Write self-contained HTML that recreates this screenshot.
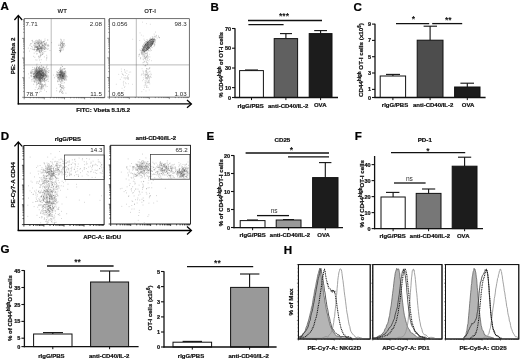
<!DOCTYPE html>
<html lang="en">
<head>
<meta charset="utf-8">
<title>Figure</title>
<style>html,body{margin:0;padding:0;background:#fff;overflow:hidden}svg{display:block;filter:blur(0.35px)}</style>
</head>
<body>
<svg width="520" height="361" viewBox="0 0 520 361" font-family='"Liberation Sans", Arial, sans-serif'>
<defs><filter id="soft" x="-5%" y="-5%" width="110%" height="110%"><feGaussianBlur stdDeviation="0.38"/></filter></defs>
<rect width="520" height="361" fill="#fff"/>
<text x="0.6" y="9.7" font-size="11.6" font-weight="bold" text-anchor="start" fill="#000" stroke="#000" stroke-width="0.22">A</text>
<text x="210.5" y="10.6" font-size="11.6" font-weight="bold" text-anchor="start" fill="#000" stroke="#000" stroke-width="0.22">B</text>
<text x="353.6" y="10.6" font-size="11.6" font-weight="bold" text-anchor="start" fill="#000" stroke="#000" stroke-width="0.22">C</text>
<text x="0.8" y="140.4" font-size="11.6" font-weight="bold" text-anchor="start" fill="#000" stroke="#000" stroke-width="0.22">D</text>
<text x="206.6" y="140.2" font-size="11.6" font-weight="bold" text-anchor="start" fill="#000" stroke="#000" stroke-width="0.22">E</text>
<text x="354.8" y="140.2" font-size="11.6" font-weight="bold" text-anchor="start" fill="#000" stroke="#000" stroke-width="0.22">F</text>
<text x="0.4" y="253" font-size="11.6" font-weight="bold" text-anchor="start" fill="#000" stroke="#000" stroke-width="0.22">G</text>
<text x="283.8" y="254" font-size="11.6" font-weight="bold" text-anchor="start" fill="#000" stroke="#000" stroke-width="0.22">H</text>
<g id="panelA">
<rect x="24.2" y="18.7" width="80.6" height="78.6" fill="#fff" stroke="#333" stroke-width="0.7"/>
<path d="M24.2 97.3v2M24.2 97.3h-2M30.3 97.3v1M24.2 91.4h-1M33.8 97.3v1M24.2 87.9h-1M36.3 97.3v1M24.2 85.5h-1M38.3 97.3v1M24.2 83.6h-1M39.9 97.3v1M24.2 82h-1M41.2 97.3v1M24.2 80.7h-1M42.4 97.3v1M24.2 79.6h-1M43.4 97.3v1M24.2 78.5h-1M44.3 97.3v2M24.2 77.7h-2M50.4 97.3v1M24.2 71.7h-1M54 97.3v1M24.2 68.3h-1M56.5 97.3v1M24.2 65.8h-1M58.4 97.3v1M24.2 63.9h-1M60 97.3v1M24.2 62.4h-1M61.4 97.3v1M24.2 61h-1M62.5 97.3v1M24.2 59.9h-1M63.6 97.3v1M24.2 58.9h-1M64.5 97.3v2M24.2 58h-2M70.6 97.3v1M24.2 52.1h-1M74.1 97.3v1M24.2 48.6h-1M76.6 97.3v1M24.2 46.2h-1M78.6 97.3v1M24.2 44.3h-1M80.2 97.3v1M24.2 42.7h-1M81.5 97.3v1M24.2 41.4h-1M82.7 97.3v1M24.2 40.3h-1M83.7 97.3v1M24.2 39.2h-1M84.6 97.3v2M24.2 38.4h-2M90.7 97.3v1M24.2 32.4h-1M94.3 97.3v1M24.2 29h-1M96.8 97.3v1M24.2 26.5h-1M98.7 97.3v1M24.2 24.6h-1M100.3 97.3v1M24.2 23.1h-1M101.7 97.3v1M24.2 21.7h-1M102.8 97.3v1M24.2 20.6h-1M103.9 97.3v1M24.2 19.6h-1" stroke="#333" stroke-width="0.55" fill="none"/>
<rect x="109.3" y="18.7" width="80" height="78.4" fill="#fff" stroke="#333" stroke-width="0.7"/>
<path d="M109.3 97.1v2M109.3 97.1h-2M115.3 97.1v1M109.3 91.2h-1M118.8 97.1v1M109.3 87.7h-1M121.3 97.1v1M109.3 85.3h-1M123.3 97.1v1M109.3 83.4h-1M124.9 97.1v1M109.3 81.8h-1M126.2 97.1v1M109.3 80.5h-1M127.4 97.1v1M109.3 79.4h-1M128.4 97.1v1M109.3 78.4h-1M129.3 97.1v2M109.3 77.5h-2M135.3 97.1v1M109.3 71.6h-1M138.8 97.1v1M109.3 68.1h-1M141.3 97.1v1M109.3 65.7h-1M143.3 97.1v1M109.3 63.8h-1M144.9 97.1v1M109.3 62.2h-1M146.2 97.1v1M109.3 60.9h-1M147.4 97.1v1M109.3 59.8h-1M148.4 97.1v1M109.3 58.8h-1M149.3 97.1v2M109.3 57.9h-2M155.3 97.1v1M109.3 52h-1M158.8 97.1v1M109.3 48.5h-1M161.3 97.1v1M109.3 46.1h-1M163.3 97.1v1M109.3 44.2h-1M164.9 97.1v1M109.3 42.6h-1M166.2 97.1v1M109.3 41.3h-1M167.4 97.1v1M109.3 40.2h-1M168.4 97.1v1M109.3 39.2h-1M169.3 97.1v2M109.3 38.3h-2M175.3 97.1v1M109.3 32.4h-1M178.8 97.1v1M109.3 28.9h-1M181.3 97.1v1M109.3 26.5h-1M183.3 97.1v1M109.3 24.6h-1M184.9 97.1v1M109.3 23h-1M186.2 97.1v1M109.3 21.7h-1M187.4 97.1v1M109.3 20.6h-1M188.4 97.1v1M109.3 19.6h-1" stroke="#333" stroke-width="0.55" fill="none"/>
<line x1="51.2" y1="18.7" x2="51.2" y2="97.3" stroke="#777" stroke-width="0.5"/>
<line x1="24.2" y1="64.9" x2="104.8" y2="64.9" stroke="#777" stroke-width="0.5"/>
<line x1="136.3" y1="18.7" x2="136.3" y2="97.1" stroke="#777" stroke-width="0.5"/>
<line x1="109.3" y1="64.9" x2="189.3" y2="64.9" stroke="#777" stroke-width="0.5"/>
<g filter="url(#soft)">
<path d="M37.8 47.3h.01M39 46.5h.01M44.8 47.4h.01M35.9 49.5h.01M32.7 41.5h.01M42.5 44.5h.01M39.1 51.6h.01M39.9 48.1h.01M39.9 46.4h.01M36.3 46h.01M37.5 43.5h.01M34 49.4h.01M40.6 43.3h.01M36.7 50.6h.01M45 44.2h.01M40.8 41.2h.01M39.5 39.8h.01M38.6 48.2h.01M36.8 40.3h.01M38.8 49.4h.01M45.3 49.2h.01M37.3 51.1h.01M37.7 46.4h.01M41.6 44.2h.01M37.4 49.6h.01M41.3 51.1h.01M39.8 44.8h.01M40.5 48h.01M34.2 45.1h.01M47.8 40.5h.01M39.7 50.3h.01M41.6 48.1h.01M40.5 47.2h.01M48.5 48.8h.01M37.7 47h.01M43.4 41.6h.01M36.4 47.5h.01M38.6 47.2h.01M44.2 46.7h.01M30.7 44.8h.01M42.9 45.1h.01M37.5 49.3h.01M41.3 42.1h.01M45 39h.01M39.8 50.3h.01M42.7 50.3h.01M51.6 42.6h.01M43.7 47h.01M36.2 44.9h.01M39 39.7h.01M48.3 46.2h.01M41.8 46.3h.01M39.6 49.8h.01M34.3 47.7h.01M45.7 45.3h.01M47.3 49.5h.01M37.1 49.6h.01M38.1 44.5h.01M35 46.7h.01M39.8 52.1h.01M43.7 53.3h.01M31.6 46.5h.01M30.7 48.6h.01M37 46.6h.01M46.8 48.7h.01M37.3 44.9h.01M37.2 46.5h.01M40.1 46.2h.01M37.1 43.2h.01M31.7 43.5h.01M28.3 48.1h.01M39.8 40.9h.01M34.7 43.3h.01M44.6 49.4h.01M45.6 43.2h.01M41.8 48.7h.01M45.6 48.4h.01M41.4 48.1h.01M39.2 48.9h.01M40.7 48.5h.01M38.2 45.3h.01M44 46.3h.01M42.9 42.3h.01M44.9 48.6h.01M35.1 46.9h.01M39.2 48.7h.01M39.8 44.6h.01M41.7 45.3h.01M50 50.5h.01M29.8 45.3h.01M37.2 47.8h.01M43.4 48h.01M38.4 46.9h.01M36.6 46.6h.01M39.2 43.9h.01M42.5 49.1h.01M35.9 43.2h.01M32.9 42.4h.01M35.3 47h.01M37.9 48.3h.01M44.5 49.5h.01M47.6 46.1h.01M38.1 51.2h.01M41.3 55.1h.01M44.5 51.6h.01M41 49.1h.01M36.2 49.4h.01M45.3 47.5h.01M39.8 48h.01M35.6 40.8h.01M36.4 42.8h.01M41.4 42.7h.01M48.4 45.4h.01M41.3 43.7h.01M35.6 41.9h.01M32.6 40.4h.01M41.6 48.8h.01M40.4 47.9h.01M35.7 43.2h.01M37.7 41.8h.01M38.5 43.3h.01M42.3 45.8h.01M36.4 41.2h.01M34.8 43.5h.01M39.8 46.5h.01M39 43.2h.01M40.6 44h.01M34.8 43.4h.01M39 45.6h.01M48.9 45.8h.01M40.1 42.1h.01M42.1 54.1h.01M44 48.8h.01M45 40.5h.01M39.7 51.1h.01M41.8 46.9h.01M39.8 52.7h.01M45.9 45.2h.01M46.4 43.1h.01M40.7 48.5h.01M36.8 49.5h.01M42.8 54.4h.01M37.7 48.8h.01M39.2 47h.01M38.8 41.5h.01M39 42.5h.01M39.5 42.7h.01M39 45.7h.01M40.2 50.2h.01M34.9 43h.01M42.5 52.9h.01M44.6 41.9h.01M37.8 47.8h.01M38.7 49.3h.01M34.1 41.7h.01M33.8 49.6h.01M44.2 47h.01M35.8 44.9h.01M36.7 50.3h.01M45.7 44.5h.01M47.5 45.5h.01M34.4 49.5h.01M44.5 41.6h.01M37.2 47h.01M41.7 41.4h.01M39.9 48.2h.01M38.8 49.6h.01M38.9 45.3h.01M37.1 46.6h.01M37 47.6h.01M42.2 48.7h.01M43.1 45.6h.01M44.6 45.6h.01M32.4 47.1h.01M36.7 42.5h.01M36.6 47.7h.01M39.3 41.9h.01M44 44.1h.01M38.6 56.2h.01M37.3 48.7h.01M38.2 43.7h.01M41.6 51.8h.01M48.1 44.5h.01M41.2 40.2h.01M42 50.2h.01M35.8 44.9h.01M39.3 48.6h.01M43.7 45.3h.01M37.3 47.7h.01M39.3 51.1h.01M41.5 48.8h.01M34.8 48h.01M43.1 45.6h.01M38.3 42.9h.01M44.1 48.8h.01M43.1 48.8h.01M44.6 43.9h.01M46.9 48.2h.01M34.1 49.1h.01M43.6 41.6h.01M40.1 40.8h.01M38.2 48.1h.01M41.4 51.3h.01M40.6 52.8h.01M44.2 43.7h.01M42.5 45.8h.01M36.9 47.1h.01M38.8 40.4h.01M38.9 42.9h.01M39.4 45.6h.01M40.8 49.2h.01M32.4 49.3h.01M42.8 42.2h.01M37.3 42.6h.01M44.3 47.9h.01M46.9 44.6h.01M42.1 47.7h.01M38.3 43.8h.01M41.6 50.5h.01M38.3 48.9h.01M42.4 45.1h.01M39.5 45.5h.01M38.6 48.6h.01M40.7 48.1h.01M34.2 53.1h.01M35.9 51.7h.01M42.6 43.5h.01M45.4 44.1h.01M29.5 51.1h.01M40.7 47h.01M39.1 44.1h.01M37.9 50.4h.01M36.1 47.3h.01M42.2 42.5h.01M44.6 44.5h.01M46.5 42.9h.01M41.2 42.7h.01M35.6 47.6h.01M37.6 49.2h.01M40.9 43.1h.01M44.3 46.5h.01M37.8 43h.01M33.8 45.6h.01M32 48.9h.01M42.5 46.9h.01M38.3 42h.01M39.6 48.3h.01M42.3 48h.01M37.9 41h.01M35.3 46.1h.01M47.8 39.5h.01M41.8 47.7h.01M34.8 45.8h.01M43.5 42.2h.01M41.5 43h.01M34.1 44.3h.01M37.9 48.7h.01M45.8 51.4h.01M39.5 45.3h.01M41.3 47h.01M37.7 41.1h.01M42.7 47.7h.01M44.3 43.5h.01M34.3 50.2h.01M40.5 43.4h.01M31.9 40.5h.01M41.1 46.7h.01M30.4 43.5h.01M41.3 47.6h.01M45.5 47.6h.01M38.7 49.3h.01M40.9 47.8h.01M43.1 50.1h.01M41.7 43.9h.01M42.3 45.7h.01M41.3 42h.01M43.1 51.9h.01M41.7 49.1h.01M45.8 46h.01M37 49.9h.01M40.8 53h.01M38.9 57.8h.01M47 57.2h.01M41.1 49.6h.01M46.7 55.3h.01M39.9 51.1h.01M39.8 51.2h.01M40.2 56.6h.01M40.1 56h.01M37 60h.01M37.7 48.6h.01M39.3 52.3h.01M36.5 53.8h.01M41 50.9h.01M39.5 60h.01M42.4 54.5h.01M40.4 54.6h.01M39.8 57.6h.01M39.7 46.6h.01M39.9 51.9h.01M42.3 52.9h.01M40.5 62.6h.01M36.3 51.1h.01M35.1 46.6h.01M33.4 56.3h.01M37.8 48.5h.01M34.8 57.2h.01M37.3 53.7h.01M41.2 59.7h.01M46.8 58.6h.01M40.5 55.6h.01M46.3 60h.01M38.9 56.6h.01M41 55.2h.01M38.2 50.4h.01M38.1 49.6h.01M44.3 56.9h.01M35.8 59.9h.01M43.1 48.3h.01M46.4 57.8h.01M64.3 44.3h.01M63.3 43.8h.01M61 40.9h.01M62.4 45.5h.01M61.2 48.7h.01M59.9 50.6h.01M64.5 43.3h.01M61.6 47.4h.01M59.6 48.4h.01M62.8 43.7h.01M63.9 41.1h.01M61.9 45.9h.01M60.4 51.4h.01M60.4 51.5h.01M62.5 43.9h.01M63.2 45.1h.01M60.5 44.2h.01M62.7 44.6h.01M62.6 47.1h.01M59.4 50.4h.01M60.7 41.9h.01M60.9 50.6h.01M61.6 43.5h.01M63.1 43.4h.01M62.9 45.6h.01M62.2 42.1h.01M60.8 48.2h.01M62.3 47.2h.01M63.3 49.9h.01M64.1 43.7h.01M61.9 50.2h.01M59.9 47.7h.01M61.6 40.7h.01M60.9 50.2h.01M62.5 42.6h.01M61.1 43h.01M64 39.7h.01M60.5 45h.01M63.3 45.1h.01M60.5 44.4h.01M61.2 39.5h.01M62.3 47.7h.01M60.4 46.2h.01M63.1 48.9h.01M61.6 47.1h.01M60.9 43.2h.01M59.3 50.4h.01M60.7 51.7h.01M60.8 48.1h.01M61.9 47.2h.01M60.4 50.3h.01M63.2 47.7h.01M61.2 49.2h.01M62.1 42.3h.01M60.1 52.2h.01M62.8 41.9h.01M61.8 43.6h.01M62.3 44.5h.01M62 46.7h.01M60.5 49.7h.01M59.8 45.5h.01M65.1 45.4h.01M64.3 46.2h.01M63.5 45.8h.01M61.8 44.1h.01M60.7 50.7h.01M64 46.8h.01M60.7 39.2h.01M63 43.9h.01M58.4 45.5h.01M60.8 45.5h.01M60.8 45.7h.01M59 44.3h.01M62.7 46.4h.01M60.8 42.7h.01M39.4 71.8h.01M42.7 70.8h.01M34 80h.01M40.1 70.8h.01M34.8 81.5h.01M34.7 76h.01M36.4 75.2h.01M39.9 71h.01M31 71.1h.01M37.1 80.6h.01M39.5 71.2h.01M45.3 72.1h.01M45.5 73.3h.01M39.3 68.2h.01M34.9 68.4h.01M37.2 69.8h.01M40.2 73.1h.01M39.5 66.8h.01M40.7 68.8h.01M37.4 80.7h.01M38.6 70.8h.01M43.1 72.4h.01M45.9 72.7h.01M37.1 70.9h.01M37 74.4h.01M43.8 75.4h.01M48.4 81.3h.01M40.1 73.6h.01M43.3 73h.01M38.3 67.9h.01M30.8 72h.01M39.6 80.6h.01M45.5 74.2h.01M40 83.5h.01M36.2 76.9h.01M37.3 79.7h.01M34.7 76.8h.01M39.2 77h.01M42.3 75.4h.01M36.5 71.7h.01M44.2 72.6h.01M31.7 79.6h.01M35.5 69.3h.01M40.5 76h.01M46.5 70.2h.01M40.5 68.3h.01M41.3 65.4h.01M34.8 74.8h.01M43.1 79.2h.01M34 71.7h.01M40.3 77.7h.01M45.1 76h.01M36.4 69.9h.01M35.4 76.7h.01M40.2 81.7h.01M36.3 77.8h.01M46.4 76.5h.01M38.7 71h.01M45.7 75.9h.01M41.2 70.6h.01M44.3 69.2h.01M42.5 69.5h.01M41.3 77.6h.01M28.6 73.9h.01M39.3 72.4h.01M44.4 81.8h.01M34.6 67.8h.01M44.3 73.9h.01M40 77.9h.01M45.3 70.5h.01M37 64.2h.01M42.3 70.1h.01M34.9 69.4h.01M42.7 78h.01M37.2 76.1h.01M39.2 72.5h.01M47 81.1h.01M45.6 72h.01M46.8 75.5h.01M37.3 73.4h.01M38.2 73.6h.01M41.6 73.5h.01M40.4 80.2h.01M43.2 73.7h.01M42 84.2h.01M44.9 75.4h.01M36.2 76.6h.01M40.7 79.3h.01M43.3 76.1h.01M39.7 71.1h.01M41.2 71.2h.01M43.1 72.8h.01M41.3 72.5h.01M41.9 78.2h.01M39.4 73.9h.01M36.6 75.2h.01M42 70.9h.01M39.2 69.8h.01M43.7 67.4h.01M41.2 73.3h.01M43.9 76.1h.01M35.9 78.7h.01M41.9 75.6h.01M45.7 74.2h.01M34.6 82h.01M48.1 76.1h.01M34.6 74.1h.01M43.3 74.9h.01M40.8 80.6h.01M42 72.3h.01M35.3 71.5h.01M44.8 71h.01M34.9 75.9h.01M33.9 73.5h.01M42.8 77.1h.01M40.9 70.6h.01M38 73.9h.01M40.6 72.9h.01M35.5 72.4h.01M44.8 70.1h.01M46 75.3h.01M36.3 71.6h.01M36.8 76.6h.01M48.5 72.3h.01M42.5 68.6h.01M36.9 70.4h.01M32.4 71.8h.01M37.3 73.5h.01M40.2 81.5h.01M44.1 75.8h.01M38.2 74.9h.01M38.3 80.2h.01M45.6 74.5h.01M36.1 75.8h.01M33.1 74.1h.01M39.1 80.2h.01M38.2 78h.01M39.4 71.3h.01M37.3 84.5h.01M42.4 74.2h.01M40.1 77.5h.01M45.9 75.6h.01M39.9 80.4h.01M36.5 68.2h.01M39.6 66.6h.01M42 68.7h.01M40.4 71.3h.01M31.2 73.7h.01M39.3 67.4h.01M35.2 74h.01M34.5 78.9h.01M38.7 68.9h.01M43.1 80.1h.01M39.9 72.7h.01M44.7 69.3h.01M34.9 77.4h.01M39 71h.01M30.6 72.8h.01M36.2 73.3h.01M34.7 77.2h.01M40.7 78.6h.01M36.9 71.3h.01M37.1 76.4h.01M34.9 75.2h.01M44.6 73.7h.01M47.1 65.2h.01M44.1 73.5h.01M35.7 75.6h.01M31.8 76.7h.01M35.5 75.7h.01M39.9 79.6h.01M41.8 69.2h.01M34.6 77.9h.01M31.2 72.3h.01M41.8 75.3h.01M37.7 75.6h.01M35.6 71h.01M39.8 68.9h.01M45.5 80.3h.01M34.2 73.4h.01M40.6 73.8h.01M35 77.1h.01M43.4 76.5h.01M36.6 68h.01M33.5 77h.01M37.5 75.9h.01M34 76.5h.01M39.9 76.4h.01M35.5 73.3h.01M41.5 78.5h.01M38.5 78.9h.01M38.8 74h.01M44.4 80h.01M36.9 74.1h.01M38.5 75.1h.01M36.7 84.3h.01M35.5 74.9h.01M41.4 69.7h.01M36.3 76h.01M38.5 72.8h.01M36.5 82.3h.01M35.7 73.7h.01M41 82.9h.01M41.9 79.7h.01M38.7 77.7h.01M43.2 80.7h.01M48.1 68.6h.01M45.6 77.7h.01M34.9 73.1h.01M40 69.9h.01M41.7 75.9h.01M39.9 69.4h.01M40.6 79.1h.01M42.4 74.4h.01M42.1 68.8h.01M34.7 76.8h.01M42.6 70.4h.01M44.6 71.1h.01M45.6 83.1h.01M39 70.6h.01M39.5 69.7h.01M47.1 71.8h.01M37.6 67h.01M42.5 77.6h.01M42 72.9h.01M37.9 71.9h.01M43.3 73.2h.01M42.2 76.8h.01M38 73.6h.01M37.6 77.5h.01M41.9 77.5h.01M40.8 81.9h.01M36 75.8h.01M36.6 67.9h.01M41.5 78h.01M44.2 79.1h.01M36.5 77.5h.01M38.3 76.7h.01M48.7 76.1h.01M46.8 75.6h.01M36.9 75.6h.01M40.7 68.3h.01M37.9 73.2h.01M46.6 74h.01M44.9 75.1h.01M44.5 76.3h.01M39.4 75.3h.01M33.5 81.2h.01M36.9 74.6h.01M46.8 66.7h.01M36.2 76.3h.01M37.6 72.5h.01M34.3 77.1h.01M37.1 75.5h.01M43.7 67.3h.01M36.3 79.5h.01M35.3 74.6h.01M41.3 75.5h.01M36.5 74h.01M42.8 77.6h.01M47.2 69.1h.01M39 70.4h.01M40.9 78.5h.01M35 75.7h.01M41.5 72.9h.01M42.3 79.4h.01M33.5 76h.01M44.2 74.6h.01M44.4 79.5h.01M33.6 74.2h.01M42.6 81.1h.01M37.5 74.1h.01M30.6 75.7h.01M43.6 72.2h.01M43.5 79h.01M44.8 72.2h.01M40.2 75.2h.01M45.3 76.9h.01M41.1 68.6h.01M47.3 68.9h.01M40.5 82.6h.01M38.9 70.8h.01M39.2 67.7h.01M34.2 72.2h.01M43.8 77.1h.01M42.9 76.1h.01M43.7 77.8h.01M40.9 82.3h.01M40 74.3h.01M38 69.1h.01M33.7 76.6h.01M41.9 77.2h.01M36.7 71.2h.01M44.3 69.1h.01M44.2 80.9h.01M39.7 75.7h.01M33.2 76.9h.01M44.6 75.2h.01M34.7 76.6h.01M37.8 74.3h.01M33.7 78.4h.01M37.3 73.1h.01M41.6 68.2h.01M38.8 72.8h.01M43.5 76.2h.01M38.1 68.5h.01M37.8 74.1h.01M34.7 80.6h.01M39.2 78.7h.01M43.6 75.6h.01M36.9 73.9h.01M38.2 75.2h.01M46 71.8h.01M36.3 72.7h.01M32 81h.01M45.5 75.4h.01M40.7 77.1h.01M37.7 72.6h.01M34 69.8h.01M38.4 67.8h.01M41.4 70h.01M44 76.7h.01M40.7 76.5h.01M36.4 69.5h.01M46.9 76.9h.01M36 77.5h.01M41.7 73.5h.01M38.6 72.1h.01M39.5 77.4h.01M41 70.5h.01M31.7 72.3h.01M36.7 70.7h.01M38.7 67.3h.01M38.9 68.9h.01M33.7 73.9h.01M34.9 73.3h.01M43 73.4h.01M44.7 76h.01M39.2 72.9h.01M41 71.7h.01M40.7 73.9h.01M43 72.5h.01M39 74.8h.01M47.3 79.3h.01M37.6 79.1h.01M37.5 76.8h.01M40.1 80.2h.01M40.3 74.3h.01M38.5 83.5h.01M44.4 78.3h.01M39.4 70.8h.01M35.4 78h.01M32 69.9h.01M38.8 83.4h.01M46.6 67h.01M44.3 79.5h.01M48.3 77.9h.01M41.6 75.2h.01M35.4 75.3h.01M41.4 78.4h.01M37.6 73.4h.01M44.9 76.3h.01M39.2 81.9h.01M44.2 80.8h.01M42.1 79h.01M38.9 77.2h.01M44 78.3h.01M39.3 78.1h.01M41.9 77.4h.01M38.1 72.1h.01M32.7 67.4h.01M42.1 71.9h.01M32.4 79.1h.01M37.9 75.9h.01M34.8 73.8h.01M37.8 77.8h.01M43.6 69.5h.01M36.7 68.9h.01M41 80.4h.01M36.4 67h.01M40.2 77.5h.01M35.7 70.2h.01M36.2 69.3h.01M40.2 84.4h.01M31.7 75.2h.01M42.8 75.8h.01M35.7 72.4h.01M39.4 80.5h.01M43.2 68.8h.01M35.9 77.5h.01M43.4 78.5h.01M40.4 70.5h.01M33.7 76.2h.01M34 74.1h.01M36.4 70.9h.01M36.8 77.6h.01M42.7 79.7h.01M38.3 72.8h.01M37.8 69.6h.01M41.9 75.6h.01M36.8 76.3h.01M36.2 73h.01M39 73h.01M46 72.7h.01M35.6 79.1h.01M37.3 70.2h.01M47.5 71.8h.01M36.7 73.7h.01M31.2 76.6h.01M32 70.9h.01M37.5 72.8h.01M41.7 70.1h.01M45.9 77.9h.01M43.2 70.9h.01M42 71.4h.01M39.7 77h.01M40.1 75.2h.01M46.1 76.6h.01M40.4 75.4h.01M37.4 74.9h.01M44.9 69h.01M38.1 75.5h.01M33.4 74.5h.01M43.3 70.5h.01M41 75.3h.01M35.7 77.1h.01M39.4 77h.01M29.2 77.9h.01M43.4 75.6h.01M39.8 72.5h.01M45 69.9h.01M36.9 71.4h.01M42.5 71.8h.01M42.7 70.4h.01M35 82.1h.01M42.1 73.5h.01M45.2 77.7h.01M35.3 72.3h.01M43.7 71.6h.01M41.3 68.9h.01M36.4 80.9h.01M43.2 74.7h.01M39.4 71.6h.01M48.3 70.6h.01M38.8 75.6h.01M37 74.2h.01M36.9 72.5h.01M39.9 79.3h.01M35.9 70.7h.01M35.8 79.2h.01M37.7 82h.01M42.1 80.5h.01M34 72.6h.01M38.8 72.7h.01M46.2 79.7h.01M36.6 76.6h.01M40.7 83.8h.01M43.6 72.2h.01M38.6 73.2h.01M44.6 79.9h.01M36.6 76.6h.01M40.8 81.3h.01M39.1 75h.01M30.8 73.5h.01M41.6 81.5h.01M42 75.2h.01M39.8 72.6h.01M34.8 70.6h.01M40.6 79.5h.01M36.6 69.1h.01M41.8 70.4h.01M42.9 73.6h.01M39.4 78.9h.01M38.9 78.1h.01M40.7 80.1h.01M36.1 70.4h.01M40.9 72.5h.01M46.2 71.9h.01M41.6 76h.01M42.3 67.6h.01M46.6 68h.01M38 68.8h.01M45 71.4h.01M45.9 73.1h.01M39.9 81.9h.01M31.7 75.6h.01M34.5 72.1h.01M45.3 68h.01M35.7 72.2h.01M39.2 75.4h.01M45.5 74.8h.01M39.4 69.3h.01M35.5 80.6h.01M38.8 73.2h.01M36.3 67.1h.01M47.9 79.3h.01M43.3 77.1h.01M37 77.5h.01M38.8 76.7h.01M43.3 73.2h.01M42.2 79.4h.01M34.1 78.3h.01M45.6 75.4h.01M37.9 76.9h.01M39 78.9h.01M34.8 77h.01M36.7 72.4h.01M39.6 80.9h.01M34.2 71.4h.01M44.2 70.5h.01M43.3 75.3h.01M42.3 78.1h.01M34.2 76.7h.01M37.8 70.5h.01M46.2 70.7h.01M34.2 75.6h.01M35.5 75.2h.01M42.6 73h.01M41.6 71.4h.01M38.6 78.1h.01M46.9 75.1h.01M41.5 75.8h.01M40.6 78h.01M44.6 78.5h.01M31.4 73.4h.01M38.9 74.4h.01M34.8 70.9h.01M33.8 78.9h.01M37.6 71.6h.01M38.8 74.6h.01M42.1 78.9h.01M36.3 71.5h.01M38.9 72.3h.01M36.5 68.4h.01M43.8 74.5h.01M43 75.2h.01M32.7 69.5h.01M44.5 78.3h.01M32.2 72h.01M35 81.6h.01M43.3 71.6h.01M43.9 67.2h.01M36.7 65.1h.01M42.6 75.6h.01M36.1 73.7h.01M39.5 78.5h.01M37.6 66.9h.01M40.3 71.3h.01M46.2 76.1h.01M40 74.8h.01M46.9 77.1h.01M35.7 74.4h.01M42.1 84.3h.01M45.5 71h.01M43.7 75.8h.01M33.9 69.5h.01M35.4 78.7h.01M47.7 74h.01M40.3 74.6h.01M33.9 73.7h.01M36.7 78h.01M39.3 79.5h.01M42.2 81.3h.01M38.4 72h.01M45.2 69.1h.01M47.2 76.1h.01M38.7 71.7h.01M44.5 78.9h.01M39.4 79.1h.01M42.2 71.2h.01M36.2 80.5h.01M40.6 72.2h.01M38.8 75.1h.01M45.6 78.4h.01M40.7 68.3h.01M41 66.7h.01M41 78h.01M41.3 71.6h.01M40.7 73.1h.01M39.8 72.9h.01M35 76.7h.01M45.6 74.2h.01M38.9 77.4h.01M35.4 70.8h.01M37.3 73.6h.01M37.4 73.1h.01M41.4 74.3h.01M38.9 80.2h.01M41.4 74.5h.01M37 70.7h.01M46.4 73.9h.01M40.8 84h.01M46.2 71.6h.01M40.4 74.3h.01M46.9 77.4h.01M45.5 80.9h.01M49.2 70.7h.01M31 72.6h.01M35.6 71.7h.01M36.2 73.8h.01M41.8 70h.01M36.6 73.9h.01M40.7 75.1h.01M38 71.8h.01M39.7 74.3h.01M35 68.3h.01M40.9 74.6h.01M35.5 69.7h.01M32.4 73.3h.01M42.9 66.7h.01M37.7 69.5h.01M36.5 82h.01M34.6 78.4h.01M39.7 78.9h.01M48.7 72.4h.01M43.2 67.4h.01M41.5 78.9h.01M42.7 74h.01M41.6 66h.01M43.3 81.1h.01M38.3 88.8h.01M42.9 85.6h.01M36.5 85.2h.01M33.7 84.3h.01M35.1 89.6h.01M37.9 78.7h.01M42.9 87.1h.01M39.4 92.4h.01M43.5 86.2h.01M38.9 77.1h.01M42.5 88.9h.01M39.1 81.8h.01M40.9 81h.01M41 88.3h.01M45.8 86.8h.01M41.6 88.2h.01M45.5 85h.01M37.1 83.6h.01M37 83.3h.01M40.6 87h.01M41.5 86.2h.01M39.9 87.3h.01M43.8 88.3h.01M45.8 85.1h.01M40.2 91.1h.01M41.6 87.2h.01M39.9 88.9h.01M39.7 83h.01M40.8 84.7h.01M43.7 84.9h.01M41.4 85.3h.01M42.1 84.1h.01M44.5 81.7h.01M39.8 83.9h.01M43.1 86.1h.01M42.6 85h.01M38.7 82.6h.01M39.9 84.4h.01M41.9 87.1h.01M44.1 85.7h.01M38.6 82.8h.01M41.2 87.1h.01M47.2 86.5h.01M46.6 91.6h.01M37.6 89.6h.01M44.6 90h.01M41 88.9h.01M39.5 85.8h.01M41.1 91.3h.01M40.3 88.9h.01M41.2 83.9h.01M41.8 88h.01M38.7 87.9h.01M38.7 83.4h.01M41.7 85.3h.01M37.9 81.1h.01M41.1 86.7h.01M39.5 86.6h.01M36.1 87.2h.01M42.3 86.8h.01M39 86.2h.01M41.4 89.2h.01M41.9 86.8h.01M38.7 88.6h.01M44.8 84.5h.01M43 86.9h.01M40.9 82.1h.01M46.6 80.4h.01M42 84.9h.01M44.7 84.7h.01M62.3 76.5h.01M64.8 75.7h.01M60.3 74.1h.01M62 80.5h.01M64.5 75.1h.01M61.5 72.1h.01M61.6 73.3h.01M60.6 75.2h.01M65.7 72h.01M63.3 76.5h.01M62.6 74.8h.01M61 79.2h.01M56.5 74.2h.01M65.7 77.9h.01M53.4 75.1h.01M60.7 72.2h.01M64.8 80.3h.01M59.3 81h.01M65.4 79h.01M64.6 77.4h.01M59.2 74.5h.01M64.9 80h.01M58.9 74.1h.01M60.4 76.4h.01M57 74.7h.01M64.9 73.7h.01M65.4 77.2h.01M63.8 77.4h.01M60.5 74.2h.01M60.7 72.8h.01M60.9 67.4h.01M66 76.6h.01M59.7 72.7h.01M59.7 78.2h.01M63.6 75.8h.01M61.5 70.8h.01M59.6 69.8h.01M65.2 76h.01M60.3 77.3h.01M63 71.6h.01M60.5 71.9h.01M62.8 78.4h.01M61.1 78.6h.01M63.1 76.1h.01M59.8 76.2h.01M58.4 76.9h.01M60.7 67.7h.01M61.3 73h.01M61.8 75.5h.01M63 70.1h.01M64.3 74h.01M62.9 78.1h.01M63.3 78.5h.01M64.6 78.3h.01M62.2 76.9h.01M59.4 78.8h.01M63 76.5h.01M59 75.4h.01M60.4 71.9h.01M65.1 73.7h.01M60.5 70.4h.01M64.2 71.7h.01M63.6 76.4h.01M60.8 74.7h.01M62.2 76.7h.01M60.2 75.2h.01M60.5 74.8h.01M60.6 75.9h.01M59.1 73.2h.01M61.1 73.9h.01M61.3 65h.01M61.3 75.1h.01M64.9 77.1h.01M62.7 73.3h.01M61.1 77.5h.01M58.9 72.3h.01M63.1 74.2h.01M59.1 74.2h.01M59.9 75.5h.01M62.7 75.9h.01M58.7 74.7h.01M64.5 75.8h.01M62.6 76.9h.01M64.9 75.1h.01M66.7 80h.01M63.7 75.1h.01M63.3 78.3h.01M63.5 76.2h.01M60.3 77.8h.01M62.8 78.2h.01M61.1 72.6h.01M57.7 74h.01M62.7 77.9h.01M63.9 79.8h.01M62.3 79.1h.01M64.1 75.6h.01M58.4 79.2h.01M65.9 72.1h.01M59.8 71.3h.01M63.6 72.9h.01M59.4 78.3h.01M60.5 82.2h.01M64.4 76.5h.01M62.6 66.4h.01M61.6 70.9h.01M61.2 73h.01M64.1 68.8h.01M64.8 72.4h.01M62.9 72.2h.01M57.7 77h.01M62.6 71.7h.01M61.5 77.4h.01M62.6 72.9h.01M60.1 73.1h.01M62.1 72.5h.01M65.6 70.8h.01M59.6 79.8h.01M56.9 72.2h.01M57.9 76.7h.01M62.1 77.1h.01M66.1 79.7h.01M58 77.6h.01M58.3 72.6h.01M62.5 78.8h.01M63.3 72.1h.01M61 71.4h.01M60.7 81.9h.01M60.5 79.2h.01M64.8 74h.01M64.3 68.8h.01M59.2 79.9h.01M60.6 72.2h.01M57 74.4h.01M57.5 72.7h.01M60 79.4h.01M61.7 75.6h.01M61 71.8h.01M57.5 72.3h.01M62.1 76.1h.01M60.4 74.3h.01M63.8 73.8h.01M63.1 73.1h.01M60.2 72.9h.01M59.8 80.9h.01M62.1 77.2h.01M63.4 78.2h.01M61.1 81.1h.01M54.6 77.7h.01M59.2 75h.01M61 71.5h.01M58.5 78h.01M62.3 75.1h.01M62.6 72.3h.01M60.9 77.9h.01M57.7 75.5h.01M62.1 71.1h.01M61.9 69.4h.01M58.2 79.3h.01M64.2 74.8h.01M62.2 76.1h.01M58.1 81.4h.01M63.2 73.5h.01M59.5 76.6h.01M57.9 81.2h.01M58.3 77.7h.01M64.3 79.5h.01M65.6 78.3h.01M63.3 73h.01M61.9 70.7h.01M64 78.7h.01M61.1 70.4h.01M60.9 68.4h.01M62.7 75.8h.01M61.4 71.5h.01M61.2 74.6h.01M57.8 80.4h.01M66.1 76.9h.01M61.5 73.9h.01M61.2 80.1h.01M59 75.6h.01M60.6 71.5h.01M62.9 76.9h.01M64.7 74h.01M61.6 78.5h.01M64.7 71.3h.01M56.7 76.2h.01M61.4 77h.01M59.1 74.2h.01M65.1 68.6h.01M63.9 78h.01M62.9 83.1h.01M60 75h.01M66.2 75.8h.01M56.9 71.6h.01M62.8 73.6h.01M62.4 75.5h.01M61.1 69.4h.01M63.7 76.2h.01M58.2 76h.01M63.7 74.3h.01M60.2 71.6h.01M57.7 78.7h.01M61.4 72.4h.01M64.5 73.8h.01M60 76.2h.01M66.6 78.1h.01M60.6 75h.01M59.1 74.3h.01M62.5 76.2h.01M62.3 80h.01M64.3 72h.01M64.8 72.2h.01M63.9 72.4h.01M65.8 74.7h.01M62.7 69.2h.01M61.1 75.3h.01M62 78.6h.01M60.7 77.5h.01M59.1 77.5h.01M61.2 72.7h.01M66.6 75.8h.01M62.9 73.9h.01M64.2 76.8h.01M61.6 71.1h.01M57.9 77.6h.01M62.5 73.7h.01M60.5 86.1h.01M61.1 75h.01M61.3 72.5h.01M62.2 69.9h.01M63 75.6h.01M63.6 74.5h.01M56.1 76h.01M64.5 78.9h.01M64.4 82.7h.01M60.7 74.4h.01M63.2 68.8h.01M64.2 79.5h.01M63.7 76.9h.01M64.3 74h.01M59.3 74.3h.01M62 78.3h.01M59.4 74.5h.01M57.4 74.6h.01M61.6 76h.01M62.2 71h.01M62.9 78.6h.01M60.5 69.1h.01M60.6 75.1h.01M63.1 77.5h.01M63.3 78.5h.01M57.8 75.9h.01M62.7 76.6h.01M60.8 76.5h.01M64.5 73.7h.01M63.9 77.5h.01M60.6 70.2h.01M60 71.1h.01M62 77h.01M60.3 70.8h.01M60.1 76.5h.01M58.2 78.5h.01M67.4 76.8h.01M63 77.7h.01M60.7 70.1h.01M64.1 73.3h.01M59.3 72.5h.01M60.2 73.4h.01M61.8 74h.01M57.4 75.3h.01M58.7 84.4h.01M63.3 77.1h.01M65.3 75.1h.01M59.8 75.3h.01M60.7 78.5h.01M65.9 73.2h.01M65.6 71.3h.01M65 76.1h.01M58.1 77.3h.01M59.7 76.1h.01M58.6 74h.01M59.8 71.5h.01M62.2 75.7h.01M58.8 77h.01M58.4 70.5h.01M61.5 80.3h.01M59.3 77.7h.01M60.8 77.8h.01M59.3 72.3h.01M62.8 75.4h.01M60 68.8h.01M61.6 73.7h.01M59 77.8h.01M62.3 66.5h.01M57.7 81.7h.01M61.6 81.8h.01M64.7 69.1h.01M60.2 74.4h.01M63.1 79.7h.01M61.3 73.8h.01M61.8 87.3h.01M59.9 90.9h.01M60.6 91.2h.01M61.2 85.5h.01M64.7 87.6h.01M60.8 85.3h.01M63.1 93h.01M63.1 85.7h.01M60 84.8h.01M61.8 87.8h.01M60.8 91.1h.01M60.3 84.7h.01M62.9 88.5h.01M61.3 90.1h.01M59.5 92.2h.01M65.9 93.2h.01M62.2 93.3h.01M62.1 91.3h.01M61.6 87.6h.01M62.9 81.4h.01M61.6 92.5h.01M56.7 88.2h.01M63.7 88h.01M62.4 91.4h.01M62.6 80.9h.01M60.3 86.1h.01M62.3 85.6h.01M61.8 92.3h.01M56.7 90.7h.01M63.7 88.9h.01M62 87.2h.01M62.7 87.8h.01M60.7 89.5h.01M60.5 86.9h.01M61.4 83.3h.01M63.1 86.8h.01M59.9 86.8h.01M59.5 91.6h.01M62.9 93.3h.01M61 89.3h.01M60.3 84.3h.01M61.8 88.3h.01M63.7 86.1h.01M64 90.1h.01M60.4 86.4h.01" stroke="#444" stroke-width="0.72" stroke-linecap="round" fill="none" opacity="0.4"/>
<path d="M36.1 78.8h.01M41.3 75.1h.01M37.8 71.5h.01M36.5 78.6h.01M37.6 77.1h.01M42.8 73.1h.01M38.4 76.8h.01M39.6 71.8h.01M37.9 72.9h.01M36.9 73.6h.01M40.4 75.1h.01M37.5 70.9h.01M34.7 73.6h.01M40 76.6h.01M39.3 73.1h.01M43.8 72.9h.01M42.3 72.3h.01M40.5 76.6h.01M40.5 71.1h.01M43 74.4h.01M40.3 74.9h.01M38.7 80.1h.01M44.7 73.8h.01M43.5 72.3h.01M42.1 75.3h.01M38.1 72.4h.01M40.7 70.4h.01M38.6 81.3h.01M41.2 71.7h.01M40.8 76.8h.01M39.3 74.9h.01M40.1 71.5h.01M36.8 75.7h.01M40 73.7h.01M36.6 76.1h.01M37.5 78.1h.01M37.2 73.1h.01M41.7 78.4h.01M37.1 77.5h.01M39.8 72.3h.01M42.5 69.9h.01M37.5 75.3h.01M40.5 76.7h.01M38.5 79.2h.01M40.1 79.8h.01M35.3 72.6h.01M43.1 76.7h.01M40.3 71.2h.01M41.1 71.5h.01M36.3 73.4h.01M42 76.1h.01M38.6 75h.01M40.4 74.9h.01M38.4 75.8h.01M36.1 78.7h.01M40 73.5h.01M38.9 73.2h.01M43.4 76.5h.01M35.1 76.5h.01M41.1 77h.01M37.6 74.1h.01M41.4 76.9h.01M37.4 71.7h.01M39.4 77.6h.01M36.8 77h.01M39.7 70.6h.01M40.9 74.4h.01M39.1 76.2h.01M40.7 77.4h.01M38.6 74.7h.01M39 71.3h.01M43.7 80.2h.01M41.9 76.8h.01M36.5 76.2h.01M39.2 73.9h.01M39.1 75.2h.01M36.6 72.1h.01M40.4 76.9h.01M39.1 74.1h.01M37.8 75.8h.01M43 76.2h.01M36.1 75.3h.01M38 77h.01M39.7 76.5h.01M42.6 77.3h.01M41.1 76h.01M40.2 75.9h.01M41.2 73.8h.01M40.6 73.5h.01M40.7 72.2h.01M40.3 73.6h.01M39.3 72.3h.01M37 74.2h.01M39.9 79.9h.01M38.8 75.8h.01M35.5 74.6h.01M44.5 74.3h.01M42.5 78.3h.01M40.8 73.7h.01M43.5 74.3h.01M39.6 76.1h.01M37.7 76.4h.01M40.7 75h.01M42.5 75.8h.01M37.5 72.9h.01M38 71h.01M42.3 79.1h.01M43.1 74.7h.01M43.3 70.8h.01M42.5 72.2h.01M39.8 74.4h.01M42.5 73.3h.01M38 74h.01M40.2 81.2h.01M36.5 78.7h.01M38.1 75.2h.01M43 76.2h.01M41.5 75.1h.01M40.6 76.4h.01M40.4 77.2h.01M44.4 78.1h.01M44.1 74.3h.01M37.5 74.5h.01M38.8 79.7h.01M36.7 70.5h.01M42.4 73.1h.01M42.8 75.4h.01M39.5 68.5h.01M41.7 74.4h.01M41.6 74.2h.01M40.9 69.9h.01M39.2 75.9h.01M41.3 74.8h.01M40 73.3h.01M43 77.4h.01M33.5 76.8h.01M41 73.1h.01M37 72.6h.01M38.5 77.6h.01M39.7 75.5h.01M36.4 71.7h.01M42 72.3h.01M37.7 75.3h.01M36.5 73.1h.01M42.7 76h.01M44.8 75.3h.01M41.9 72.8h.01M40.1 76.2h.01M37.8 78.6h.01M39.7 72.9h.01M44.4 73.6h.01M38.7 74.9h.01M39.9 69.1h.01M38.9 68.3h.01M42.2 75.4h.01M39.5 71.6h.01M38.8 79.8h.01M35.9 74.9h.01M44.2 74.7h.01M35.7 75.6h.01M41.7 74.7h.01M38.6 74.9h.01M38.9 79.3h.01M40.2 75.2h.01M40.7 74.9h.01M40.6 77.9h.01M41.8 75.4h.01M43.6 73.9h.01M41.7 71.3h.01M39.6 71.5h.01M41.2 73.7h.01M38.8 70.1h.01M39.8 80.6h.01M41.6 71.6h.01M41.8 76.9h.01M41.7 75h.01M41.5 74.6h.01M42.8 75.7h.01M42.4 78.2h.01M37.7 71.4h.01M41 78.5h.01M38.4 69.9h.01M40.2 78.2h.01M39.5 73.7h.01M41.2 72.6h.01M41.8 73.9h.01M41.3 74.2h.01M37 75.3h.01M40 76.7h.01M42.9 75.6h.01M40.6 69.5h.01M36.4 74.1h.01M44.9 73.3h.01M43.1 74.4h.01M42.3 73.4h.01M40.4 73.7h.01M38 78.5h.01M39.9 78h.01M40.3 75.8h.01M39.2 71.8h.01M39.9 76.8h.01M39.5 73h.01M38.2 80.1h.01M37.1 72.7h.01M34.2 77.5h.01M39.1 74.1h.01M38 76.8h.01M39.7 71.3h.01M40.3 73.1h.01M37.2 75.8h.01M41.6 75.8h.01M43.9 77.5h.01M38 72.9h.01M40.9 75.3h.01M41.3 70.6h.01M38.5 71.6h.01M41.3 74.2h.01M40.5 79.7h.01M44.2 74.3h.01M39.6 74.8h.01M35.9 79.5h.01M38.7 72.5h.01M40.5 74.7h.01M38.4 72.2h.01M37.7 77.3h.01M39.5 73.7h.01M38.9 76.9h.01M38.9 71.8h.01M38 71.9h.01M39.3 74h.01M41.5 74.8h.01M41.3 80.6h.01M39.6 77.8h.01M39.3 78.4h.01M40.1 70.6h.01M44.7 75h.01M35.7 76.8h.01M42.8 76.6h.01M41.7 74.7h.01M38.7 76.8h.01" stroke="#444" stroke-width="0.72" stroke-linecap="round" fill="none" opacity="0.3"/>
<path d="M60.5 75.1h.01M61.3 74.2h.01M61.6 72.6h.01M62.7 76.7h.01M64.3 73.8h.01M62.2 76.2h.01M60.6 76.3h.01M60.6 77.9h.01M63 75.7h.01M61.1 74.1h.01M60.9 73.3h.01M62.4 72.2h.01M59.5 79.1h.01M61 73.1h.01M63.2 74.9h.01M61.6 74.1h.01M61.7 73.7h.01M61.9 77h.01M59.5 77.1h.01M62.1 77.2h.01M63 75.2h.01M63.8 74.2h.01M61.3 72.1h.01M61.9 72.7h.01M62.2 74.9h.01M63.5 75h.01M62.7 75h.01M59.9 75.6h.01M65 76.2h.01M63.7 75.2h.01M62.5 75.6h.01M62.7 76h.01M62.6 74.2h.01M59.2 74.4h.01M61 74.6h.01M62.7 75.5h.01M62.1 74.5h.01M62.8 71.1h.01M61.5 78.8h.01M60.8 74.1h.01M62.8 72.2h.01M61.8 74h.01M60 72.4h.01M62.6 72.3h.01M59.9 74.6h.01M60 76.3h.01M60.5 76.8h.01M63.3 74.8h.01M60.3 75.5h.01M62.9 73.3h.01M61.4 77.3h.01M63.1 73.8h.01M60.7 72.3h.01M62.8 76h.01M63.8 76.3h.01M62.1 75.8h.01M62.9 74.9h.01M62.9 72.5h.01M60.8 76.3h.01M61.8 74.7h.01M59.8 74.8h.01M61.7 79.6h.01M62.5 73.9h.01M60.2 75.4h.01M62.1 74.8h.01M61.9 76.4h.01M61.6 79.2h.01M61 77.1h.01M62.5 76.6h.01M61.3 75.4h.01" stroke="#444" stroke-width="0.68" stroke-linecap="round" fill="none" opacity="0.35"/>
<ellipse cx="39.8" cy="75" rx="3.3" ry="4.0" transform="rotate(20 39.8 75)" fill="none" stroke="#333" stroke-width="0.5" opacity="0.5"/>
<ellipse cx="39.6" cy="75.2" rx="1.7" ry="2.3" transform="rotate(20 39.6 75.2)" fill="none" stroke="#333" stroke-width="0.4" opacity="0.4"/>
</g>
<g filter="url(#soft)">
<path d="M143.1 55.6h.01M146.3 46.9h.01M140.7 58.9h.01M145.5 65.5h.01M141.9 54.1h.01M144.1 57.1h.01M148.8 60.9h.01M143.1 59.5h.01M142.7 56.1h.01M145.9 57.3h.01M143.6 59.9h.01M145.3 54.9h.01M144.9 51.1h.01M147.2 56.2h.01M146.6 61.9h.01M143.5 54h.01M145.5 58.2h.01M145.1 58.4h.01M146.6 48.5h.01M143.9 47.5h.01M144.8 53.5h.01M146.9 55.6h.01M145.4 59.7h.01M146.9 50.5h.01M143.9 56.2h.01M149.5 54.3h.01M145.1 56h.01M147.3 54.7h.01M146.2 53.4h.01M144.2 52.1h.01M147 52.9h.01M146.8 56.5h.01M147.8 45.1h.01M143.2 50.5h.01M145.1 58h.01M151.4 60.7h.01M148.7 56.4h.01M144.6 57h.01M140.4 58.4h.01M145.5 57.3h.01M143.1 51h.01M144 54.8h.01M146.3 53.7h.01M146.3 57.5h.01M142.8 54.6h.01M141.9 53h.01M147.6 52.4h.01M149.9 56.9h.01M147.6 55.4h.01M147.5 59h.01M145.8 53h.01M144.2 62.1h.01M145.1 53.3h.01M143.8 48.8h.01M144.3 56.2h.01M144.4 52.2h.01M146.5 56.7h.01M144.5 56.1h.01M143.2 58.2h.01M143.2 53.8h.01M145.8 53.5h.01M142.8 62.8h.01M149.1 48.6h.01M145.8 50.3h.01M146.2 50.2h.01M146.9 57h.01M149.5 59.5h.01M144.4 58.5h.01M144.4 54.6h.01M144.3 48.5h.01M147.6 55.1h.01M146.1 65h.01M146.7 56.9h.01M145.4 65.6h.01M148.4 69.2h.01M143.3 64.8h.01M145.7 66h.01M143.5 62.4h.01M147.7 60.5h.01M145.9 59.2h.01M148.5 57.8h.01M144.9 61.7h.01M145.9 71.2h.01M147 59.8h.01M147.5 64.3h.01M147 62.7h.01M147.3 58.4h.01M144.4 61.3h.01M144.6 65.7h.01M149.9 67.8h.01M147.3 64.3h.01M145.3 57.9h.01M147.5 57.2h.01M147 62.5h.01M147.8 63.2h.01M147.1 73.8h.01M143.5 75.1h.01M148.3 82.7h.01M149.6 71.6h.01M145.1 80.8h.01M146 91h.01M147.5 68.7h.01M145.8 85.6h.01M143.3 77.8h.01M144.2 85.7h.01M146 71.4h.01M143.6 73.1h.01M141.9 74.4h.01M151.2 77.5h.01M146.4 70.7h.01M147.6 74.4h.01M145.2 84.5h.01M147.8 72.2h.01M149.8 76.7h.01M147.9 77.8h.01M149.2 80.4h.01M146.2 80.9h.01M146.1 77.7h.01M150.1 71.2h.01M144.9 74.8h.01M145.9 84.1h.01M143.8 89.5h.01M150 74.5h.01M147.3 75h.01M148.2 80.6h.01M148.4 81.2h.01M150.7 76.1h.01M148.3 76h.01M147 78.2h.01M146.8 78.9h.01M145.2 76.2h.01M145.7 70.6h.01M145.5 74.3h.01M146.6 68.5h.01M146.4 70.8h.01M145.3 78h.01M149.1 78.6h.01M145.9 74.6h.01M149.5 68.1h.01M149.1 68.8h.01M145.7 77.3h.01M146.5 86.1h.01M147.9 76.7h.01M148.8 77.2h.01M145.3 83.1h.01M149.8 84h.01M144.6 87.4h.01M146.1 81.2h.01M149.2 90h.01M143.7 71.4h.01M149.2 79.7h.01M146.3 61h.01M147.8 76h.01M141.8 91.6h.01M142 73.9h.01M146.9 78.3h.01M148.4 75.5h.01M145.1 75h.01M142.8 70.9h.01M150.8 73.2h.01M146.7 87.4h.01M149 77.7h.01M148.3 75.5h.01M145.1 82.5h.01M147.2 85.8h.01M146.4 75h.01M147.6 76h.01M146.3 72.1h.01M147.4 78.8h.01M150.5 76.9h.01M143.5 79.5h.01M151.4 74.6h.01M145.3 76.1h.01M141.3 75.2h.01M146.5 68.7h.01M148 72.2h.01M143.3 73.1h.01M148.1 87.5h.01M149.4 78.1h.01M145.9 75.6h.01M148.8 74.2h.01M147.7 82.3h.01M145.1 73.8h.01M147.8 77h.01M146.7 74.1h.01M146.8 87.2h.01M149.6 68.2h.01M147 77.5h.01M147 69.4h.01M146.6 77.8h.01M145.6 78.7h.01M142.1 68.7h.01M147.1 79.1h.01M146.6 74.5h.01M147.3 82.9h.01M148.7 76.6h.01M146 82.8h.01M148 81.8h.01M146.4 72.3h.01M147.3 73.6h.01M149.2 81.7h.01M142.6 80.7h.01M149.5 82.7h.01M146 72.3h.01M148.8 82.6h.01M125 71.8h.01M120.3 79.4h.01M122.4 74.3h.01M126.1 83.7h.01M118.7 74.4h.01M128.6 77.8h.01M123.8 81.4h.01M121.4 71.4h.01M124.9 86.4h.01M127.8 78h.01M127.8 75.8h.01M121.3 69h.01M125.6 82.8h.01M125.9 77.8h.01M123.6 83.9h.01M124.7 70.2h.01M128.8 74.5h.01M126 78h.01M127.9 79.3h.01M128.4 79.1h.01M123.4 75.3h.01M126.7 73.5h.01M127.5 76.7h.01M122.1 73.3h.01M124.4 87.5h.01M127.1 78.1h.01M122.1 88.3h.01M124 78h.01M123.6 85.2h.01M125.3 75.5h.01M125.3 72.6h.01M121.7 77.1h.01M116.3 84.3h.01M130.7 72h.01M124.4 69.5h.01M125.3 79.1h.01M127 70.8h.01M123 74.5h.01M124.1 90.3h.01M124.2 77.8h.01M123.3 82.3h.01M132.4 84.3h.01M129.3 72.2h.01M127.9 78.2h.01M128.5 83.7h.01M146.4 23.6h.01M141.3 35.1h.01M144.4 40.4h.01M150.3 24.3h.01M132.7 39.3h.01M143.2 36h.01M139.7 40.5h.01M150.3 38.9h.01M142.4 22.2h.01M114.3 25.6h.01M144 39.1h.01M140 32.8h.01" stroke="#555" stroke-width="0.68" stroke-linecap="round" fill="none" opacity="0.36"/>
<path d="M148.9 47.1h.01M149.7 44.3h.01M144.7 44.1h.01M141.5 50.9h.01M146.8 48.3h.01M147 49.3h.01M152.7 42.9h.01M148.7 44.4h.01M150.5 42.2h.01M151.5 46.7h.01M144.6 47.6h.01M147.1 49.1h.01M139.2 54.7h.01M142.9 49.4h.01M154.3 38.7h.01M151.5 45.8h.01M148.8 46.9h.01M149.2 46.2h.01M147.3 50.7h.01M152.2 38.8h.01M152.7 39h.01M152.5 44.1h.01M146.3 48.8h.01M140 49.9h.01M152.7 41.6h.01M154.9 36.1h.01M154.7 44.6h.01M145.8 47.6h.01M148.3 47.6h.01M147.3 46.1h.01M147.7 45.5h.01M142.1 50.2h.01M146.5 48.2h.01M153.7 38.4h.01M147.8 45.6h.01M146.4 46.5h.01M155.3 42.3h.01M146.8 45.7h.01M146.8 43.2h.01M144.8 42.7h.01M152.5 37.8h.01M146.6 49.7h.01M148.5 49.2h.01M154.2 34.1h.01M145.5 43.9h.01M151.1 41.3h.01M144.6 51.1h.01M149.2 46.5h.01M144.7 51.8h.01M141.7 51.2h.01M148.9 50.7h.01M144.7 49.6h.01M149.2 48.3h.01M144.5 46.4h.01M144.3 45.2h.01M150.6 43.1h.01M152.2 44.8h.01M148.7 50.7h.01M150.6 43.8h.01M153.1 43.4h.01M151.4 39.8h.01M149.2 41.3h.01M149.8 39h.01M148.3 47.2h.01M147.4 48.2h.01M150.9 45.3h.01M148.4 47.3h.01M145.7 44.6h.01M155.7 39.7h.01M149.2 45.7h.01M144.4 47.4h.01M152.9 42.3h.01M148.3 46.7h.01M151 45.7h.01M144 48.5h.01M147.7 47.6h.01M151 44.5h.01M145.4 45.4h.01M151 40.1h.01M152.8 41.5h.01M151 41.2h.01M147.5 47.5h.01M146.1 45.8h.01M152.3 42.3h.01M147.4 41.8h.01M152.4 41.2h.01M154.5 39.2h.01M147.6 45.8h.01M150.7 42.3h.01M154.8 44.9h.01M150.3 40.7h.01M142.8 46.6h.01M150.1 44h.01M150.9 41.2h.01M144.6 52.4h.01M141.6 52.8h.01M140.6 50.7h.01M141.1 52.7h.01M152.5 43.6h.01M146.4 43.2h.01M147.9 48.9h.01M146.4 45.3h.01M150.6 38.1h.01M158.5 36h.01M142.6 50.4h.01M150.7 41.9h.01M147.6 47h.01M146.8 45.5h.01M139.6 54.1h.01M151.4 44h.01M154.3 41.4h.01M147.4 44.5h.01M146.9 44.5h.01M147.6 43.8h.01M150.4 40h.01M154.3 39.4h.01M147.6 40.9h.01M152.4 40.5h.01M153.1 43.1h.01M155.9 37.2h.01M147.3 44.7h.01M147.3 48.2h.01M146.7 41.7h.01M147.6 46.8h.01M145.6 47.1h.01M154 37h.01M146 49h.01M148.1 47.1h.01M151 44.4h.01M151.3 50.4h.01M143.4 52.5h.01M145.5 44.5h.01M142.2 52.5h.01M146.9 49.2h.01M141.9 48.6h.01M148.8 47.4h.01M156.6 35.3h.01M154 46.4h.01M143.2 46.3h.01M147 39.5h.01M149.4 47.8h.01M147.1 44h.01M147.8 47.6h.01M144.7 50.2h.01M149.7 39.5h.01M149.8 43.1h.01M141.4 54.1h.01M148.6 47h.01M154.2 39.4h.01M150.7 42.8h.01M146 42.3h.01M147.4 43.7h.01M152.8 41.2h.01M148.5 47.3h.01M142.4 49.8h.01M157.1 38.1h.01M145.4 41.3h.01M144.9 42.9h.01M150.6 49.1h.01M148.5 42.5h.01M158.6 37.1h.01M148.1 45.7h.01M139 54.9h.01M148 49.3h.01M151.8 41.8h.01M159.4 37.8h.01M155.1 40h.01M142.9 54.3h.01M147.4 53.7h.01M147.3 47.5h.01M145.6 45.5h.01M148.9 44.3h.01M142.8 49h.01M143.5 49h.01M144.7 45.9h.01M151.8 43.7h.01M146.5 44.1h.01M153.1 44.6h.01M145.1 44.7h.01M142.6 51.4h.01M153.9 39.8h.01M145.3 43.3h.01M144.9 51.1h.01M147.3 45.7h.01M155.5 32.1h.01M155.4 40.9h.01M147.3 42.1h.01M144.6 49.9h.01M148 46.7h.01M150.1 50.9h.01M148.9 47.8h.01M147.6 47.1h.01M150.3 48.8h.01M151.8 45.3h.01M148.6 43.2h.01M148.2 43.6h.01M148.6 43h.01M152.2 47.6h.01M145.5 44.3h.01M148.3 44.9h.01M149.1 44.3h.01M147.9 42.5h.01M150.1 42.5h.01M149.1 41.5h.01M154.2 42.9h.01M154.5 45.2h.01M145.2 45.6h.01M148 40.4h.01M148.8 45.8h.01M152.5 43.1h.01M143.8 44.1h.01M142.7 52.1h.01M151.7 41.1h.01M159.5 37.5h.01M148 44.2h.01M138.8 56.3h.01M141.8 53.1h.01M142.5 45.8h.01M146.5 44.6h.01M155 36.6h.01M152.1 42.5h.01M148.6 45.6h.01M146.6 48.2h.01M148.1 49.9h.01M143.3 46h.01M154.6 41.2h.01M152.4 40.7h.01M152.3 44.3h.01M151.3 47h.01M152.3 41.8h.01M151.5 43.2h.01M143.3 47.2h.01M152.3 40h.01M147.6 42.7h.01M150.4 44.2h.01M146.9 45.7h.01M142.7 53.4h.01M154.7 43.4h.01M147.4 46.4h.01M154.7 39.6h.01M147.4 44.1h.01M154.8 41.1h.01M140.7 57.6h.01M152.3 36.7h.01M145.7 48.5h.01M147.5 47.1h.01M147.1 42.2h.01M147.4 42.4h.01M143.6 44.8h.01M151.1 43.8h.01M142.7 47.1h.01M144.2 49.6h.01M143.2 50h.01M151.4 42.7h.01M151.4 41.7h.01M152.7 39.8h.01M142.3 50.1h.01M156.2 36.1h.01M146.5 41.4h.01M149.3 41.9h.01" stroke="#444" stroke-width="0.68" stroke-linecap="round" fill="none" opacity="0.42"/>
<path d="M145.5 46.8h.01M150.1 40.3h.01M145.8 46.6h.01M147 48.5h.01M148.2 42.5h.01M146.3 46.6h.01M149.5 43.8h.01M152.2 43.7h.01M149.2 44h.01M148.6 45.9h.01M148.5 44.3h.01M153.3 43.6h.01M146.2 45.8h.01M147.7 44.4h.01M144.5 49h.01M146.9 48.8h.01M149.9 45.4h.01M147.4 46.3h.01M146.9 45.6h.01M149.3 45.7h.01M149.3 47.8h.01M149.1 45.4h.01M150.4 44.2h.01M146.2 46.1h.01M149.5 42.1h.01M148 48.4h.01M145.6 47.4h.01M151.4 44.2h.01M148.1 46.6h.01M151.3 39.8h.01M150.2 43.6h.01M148.6 46.4h.01M151.3 43.2h.01M152.3 42.1h.01M147.4 43.3h.01M152.3 40.7h.01M150.2 45.5h.01M153.6 41.6h.01M145.8 47.1h.01M148.5 42.3h.01M152.2 40.7h.01M144.8 47.1h.01M148.8 46.7h.01M143.7 49.5h.01M143.3 50.3h.01M145.7 47.4h.01M149 42.8h.01M146.9 48.5h.01M150.9 43.4h.01M146.1 45.5h.01M146.4 48.4h.01M150.6 45h.01M147 46h.01M147.8 44.8h.01M151 44.7h.01M150.7 44.6h.01M149.6 42.7h.01M147.2 44.7h.01M149.2 43h.01M147.5 47.1h.01M149.2 43.9h.01M151.9 39.3h.01M151.7 42.9h.01M152.7 42.8h.01M149 43h.01M150.6 43.5h.01M148.1 42.8h.01M148.8 43.8h.01M148 45.1h.01M151.4 41.1h.01M152 43.1h.01M146.8 45.1h.01M148.1 43.9h.01M147.6 44.9h.01M148.3 44.2h.01M145.9 47.7h.01M148.3 47.6h.01M144.5 47.6h.01M150.2 42.8h.01M149.2 44.7h.01M148.1 45h.01M143.8 50.5h.01M149 45.9h.01M145.4 48h.01M145.3 45.8h.01M141.8 51.2h.01M154.2 40h.01M145.5 49h.01M146.1 47.1h.01M153.2 41.1h.01M150 45.4h.01M142.1 48.9h.01M147.3 47.5h.01M149.9 43.1h.01M147.9 47.6h.01M151.3 43.6h.01M146.3 47.8h.01M145.2 48.8h.01M146.6 46.1h.01M150.5 42h.01M144.9 50.8h.01M152.5 41.4h.01M144.8 47.8h.01M147.7 48.8h.01M151.2 42.9h.01M148.4 44.5h.01M149.1 42.4h.01M150.7 41.6h.01M147.8 43.2h.01M149.2 44.3h.01M151.6 43.2h.01M147.7 42.7h.01M146.8 48.2h.01M149.4 44.6h.01M151.8 38.7h.01M147.4 45.8h.01M150.2 45.8h.01M143.2 51.9h.01M154 38.1h.01M146.6 48.4h.01M146.2 47.2h.01M147.8 44.7h.01M151.6 41.9h.01M152.9 41.9h.01M146.2 47.3h.01M150.2 42.8h.01M147.4 47.4h.01M146.5 51.2h.01M146.9 44.7h.01M148.8 44.1h.01" stroke="#555" stroke-width="0.68" stroke-linecap="round" fill="none" opacity="0.35"/>
<ellipse cx="148.3" cy="45.2" rx="7.8" ry="2.6" transform="rotate(-49 148.3 45.2)" fill="#777" fill-opacity="0.2" stroke="#222" stroke-width="0.65" opacity="0.85"/>
<ellipse cx="148.1" cy="45.5" rx="5.6" ry="1.4" transform="rotate(-49 148.1 45.5)" fill="none" stroke="#222" stroke-width="0.4" opacity="0.5"/>
</g>
<text x="25.6" y="25.7" font-size="6.2" font-weight="normal" text-anchor="start" fill="#2a2a2a">7.71</text>
<text x="101.9" y="25.7" font-size="6.2" font-weight="normal" text-anchor="end" fill="#2a2a2a">2.08</text>
<text x="26.2" y="96.1" font-size="6.2" font-weight="normal" text-anchor="start" fill="#2a2a2a">78.7</text>
<text x="101.9" y="96.1" font-size="6.2" font-weight="normal" text-anchor="end" fill="#2a2a2a">11.5</text>
<text x="111.9" y="25.7" font-size="6.2" font-weight="normal" text-anchor="start" fill="#2a2a2a">0.056</text>
<text x="186.6" y="25.6" font-size="6.2" font-weight="normal" text-anchor="end" fill="#2a2a2a">98.3</text>
<text x="112" y="96.1" font-size="6.2" font-weight="normal" text-anchor="start" fill="#2a2a2a">0.65</text>
<text x="186.6" y="95.6" font-size="6.2" font-weight="normal" text-anchor="end" fill="#2a2a2a">1.03</text>
<text x="62.2" y="12.6" font-size="6" font-weight="bold" text-anchor="middle" fill="#2a2a2a" stroke="none">WT</text>
<text x="150" y="13" font-size="6" font-weight="bold" text-anchor="middle" fill="#2a2a2a" stroke="none">OT-I</text>
<text transform="translate(14.8 56) rotate(-90)" font-size="6.1" font-weight="bold" text-anchor="middle" fill="#111" stroke="#111" stroke-width="0.22">PE: Valpha 2</text>
<text x="103.2" y="112.4" font-size="6.05" font-weight="bold" text-anchor="middle" fill="#111" stroke="#111" stroke-width="0.22">FITC: Vbeta 5.1/5.2</text>
<line x1="18.3" y1="104.5" x2="18.3" y2="15.9" stroke="#000" stroke-width="1.3"/>
<path d="M14.4 20L18.3 15.6L22.2 20" stroke="#000" stroke-width="1.3" fill="none" stroke-linejoin="miter"/>
<line x1="17.7" y1="103.9" x2="191.1" y2="103.9" stroke="#000" stroke-width="1.3"/>
<path d="M187 100L191.4 103.9L187 107.8" stroke="#000" stroke-width="1.3" fill="none" stroke-linejoin="miter"/>
</g>
<g id="panelD">
<rect x="23.9" y="145.5" width="80.2" height="79.1" fill="#fff" stroke="#111" stroke-width="0.9"/>
<path d="M23.9 224.6v2M23.9 224.6h-2M29.9 224.6v1.4M23.9 218.6h-1.4M33.5 224.6v1.4M23.9 215.2h-1.4M36 224.6v1.4M23.9 212.7h-1.4M37.9 224.6v1.4M23.9 210.8h-1.4M39.5 224.6v1.4M23.9 209.2h-1.4M40.8 224.6v1.4M23.9 207.9h-1.4M42 224.6v1.4M23.9 206.7h-1.4M43 224.6v1.4M23.9 205.7h-1.4M43.9 224.6v2M23.9 204.8h-2M50 224.6v1.4M23.9 198.9h-1.4M53.5 224.6v1.4M23.9 195.4h-1.4M56 224.6v1.4M23.9 192.9h-1.4M58 224.6v1.4M23.9 191h-1.4M59.6 224.6v1.4M23.9 189.4h-1.4M60.9 224.6v1.4M23.9 188.1h-1.4M62.1 224.6v1.4M23.9 187h-1.4M63.1 224.6v1.4M23.9 186h-1.4M64 224.6v2M23.9 185.1h-2M70 224.6v1.4M23.9 179.1h-1.4M73.6 224.6v1.4M23.9 175.6h-1.4M76.1 224.6v1.4M23.9 173.1h-1.4M78 224.6v1.4M23.9 171.2h-1.4M79.6 224.6v1.4M23.9 169.7h-1.4M80.9 224.6v1.4M23.9 168.3h-1.4M82.1 224.6v1.4M23.9 167.2h-1.4M83.1 224.6v1.4M23.9 166.2h-1.4M84 224.6v2M23.9 165.3h-2M90.1 224.6v1.4M23.9 159.3h-1.4M93.6 224.6v1.4M23.9 155.8h-1.4M96.1 224.6v1.4M23.9 153.4h-1.4M98.1 224.6v1.4M23.9 151.5h-1.4M99.7 224.6v1.4M23.9 149.9h-1.4M101 224.6v1.4M23.9 148.6h-1.4M102.2 224.6v1.4M23.9 147.4h-1.4M103.2 224.6v1.4M23.9 146.4h-1.4" stroke="#111" stroke-width="0.75" fill="none"/>
<rect x="110.7" y="145.3" width="79.8" height="78.7" fill="#fff" stroke="#111" stroke-width="0.9"/>
<path d="M110.7 224v2M110.7 224h-2M116.7 224v1.4M110.7 218.1h-1.4M120.2 224v1.4M110.7 214.6h-1.4M122.7 224v1.4M110.7 212.2h-1.4M124.6 224v1.4M110.7 210.2h-1.4M126.2 224v1.4M110.7 208.7h-1.4M127.6 224v1.4M110.7 207.4h-1.4M128.7 224v1.4M110.7 206.2h-1.4M129.7 224v1.4M110.7 205.2h-1.4M130.7 224v2M110.7 204.3h-2M136.7 224v1.4M110.7 198.4h-1.4M140.2 224v1.4M110.7 194.9h-1.4M142.7 224v1.4M110.7 192.5h-1.4M144.6 224v1.4M110.7 190.6h-1.4M146.2 224v1.4M110.7 189h-1.4M147.5 224v1.4M110.7 187.7h-1.4M148.7 224v1.4M110.7 186.6h-1.4M149.7 224v1.4M110.7 185.6h-1.4M150.6 224v2M110.7 184.7h-2M156.6 224v1.4M110.7 178.7h-1.4M160.1 224v1.4M110.7 175.3h-1.4M162.6 224v1.4M110.7 172.8h-1.4M164.5 224v1.4M110.7 170.9h-1.4M166.1 224v1.4M110.7 169.3h-1.4M167.5 224v1.4M110.7 168h-1.4M168.6 224v1.4M110.7 166.9h-1.4M169.6 224v1.4M110.7 165.9h-1.4M170.6 224v2M110.7 165h-2M176.6 224v1.4M110.7 159.1h-1.4M180.1 224v1.4M110.7 155.6h-1.4M182.6 224v1.4M110.7 153.1h-1.4M184.5 224v1.4M110.7 151.2h-1.4M186.1 224v1.4M110.7 149.7h-1.4M187.4 224v1.4M110.7 148.3h-1.4M188.6 224v1.4M110.7 147.2h-1.4M189.6 224v1.4M110.7 146.2h-1.4" stroke="#111" stroke-width="0.75" fill="none"/>
<g filter="url(#soft)">
<path d="M51.8 191.5h.01M49.6 215.8h.01M47.3 193.9h.01M52.9 211.1h.01M50.6 216.1h.01M60.6 190.3h.01M47.8 193.1h.01M51.6 191.6h.01M58.6 214.7h.01M58.1 175.3h.01M52 220.7h.01M45.9 176.1h.01M48.2 212.5h.01M46.8 187.2h.01M56.5 178.4h.01M44.7 176.2h.01M61.4 218.5h.01M58.8 185.5h.01M49.6 184h.01M52.2 191.2h.01M52.3 198.6h.01M46.2 181.3h.01M46.9 182.2h.01M47.8 215.9h.01M42.1 207.4h.01M49.1 165.7h.01M51.4 216.4h.01M43.2 206.7h.01M53.7 188.5h.01M46 209.9h.01M52.4 197.9h.01M56.9 202.5h.01M48.8 183.4h.01M38.5 173.9h.01M51.1 190.2h.01M48.8 191.2h.01M44.2 180.7h.01M49.7 196.2h.01M46.2 201.7h.01M44.1 186.8h.01M42.8 207.1h.01M42.9 197.9h.01M52.9 222.8h.01M47.8 190.6h.01M48.2 222.3h.01M47.4 202.3h.01M53.5 186.9h.01M46.1 195.4h.01M51.3 187.6h.01M48.1 187.2h.01M45.6 191.6h.01M55.3 197.5h.01M52.3 202.1h.01M43 182.7h.01M52.6 204.1h.01M49.2 219.8h.01M52.3 199.3h.01M58.1 195.9h.01M55.3 195.1h.01M49.1 189.9h.01M48.9 178.1h.01M46.6 168.7h.01M49.4 212.6h.01M47.7 223.3h.01M50.8 213.2h.01M47.2 194.4h.01M53.8 175.7h.01M52.4 184.6h.01M54.5 197.9h.01M53.9 195.7h.01M43.4 198.9h.01M50 182.9h.01M45.5 188.4h.01M44.2 183.3h.01M49.8 205.2h.01M42.5 211.3h.01M55.6 198.9h.01M58.7 186.3h.01M46.9 180.6h.01M53.1 173.9h.01M42.1 205.7h.01M36.8 183.4h.01M52.4 182.3h.01M45 179.2h.01M48.4 173.7h.01M45.1 180.7h.01M49.9 172.5h.01M56 187.5h.01M46.4 185h.01M41.6 216.7h.01M57 192.9h.01M47.7 167.5h.01M46.3 214.9h.01M48.6 187.5h.01M47.1 208.4h.01M50.4 218.7h.01M49 167.4h.01M50.8 189.3h.01M37.9 181.7h.01M54 191.4h.01M54.7 184.8h.01M41 178.8h.01M53 218.9h.01M51.3 210.7h.01M51.5 202.9h.01M46 182h.01M54.4 196.3h.01M61.5 211.4h.01M47.6 190.6h.01M58 188.7h.01M46.4 173.5h.01M42 195.4h.01M44.6 187.3h.01M45.2 212.9h.01M47.1 222.9h.01M48.6 208.5h.01M43.6 186h.01M49.2 215.7h.01M55.4 174.6h.01M39 205.6h.01M55.2 222.5h.01M52.5 216.4h.01M42.3 179.2h.01M48.4 206.2h.01M52 190.2h.01M54.3 199.8h.01M48.7 210.9h.01M45.5 202.3h.01M38.7 198.8h.01M47.7 189.6h.01M50.1 194.3h.01M49.3 189.8h.01M44.1 162.8h.01M55.6 213.4h.01M51 205.3h.01M44.4 193.6h.01M46.9 196.9h.01M53.8 217.9h.01M54.6 207h.01M59.6 213.7h.01M51.1 178.2h.01M53.2 164.8h.01M46.7 195.2h.01M50 206.1h.01M47.9 213.2h.01M50.2 189.3h.01M50.3 199.4h.01M49.5 198.9h.01M36.2 197.9h.01M51.6 176.4h.01M46.9 178.7h.01M53.8 208.5h.01M50.4 192.2h.01M46.6 178.8h.01M53.4 186.4h.01M47.4 165.2h.01M53.6 208.3h.01M41.1 211.6h.01M46.6 203.9h.01M55.7 177.7h.01M51.7 195.8h.01M42.5 198.8h.01M49.1 185h.01M55.2 192.6h.01M54.1 204h.01M50.8 209.5h.01M50.4 161.6h.01M54.4 161.8h.01M45.4 202.1h.01M45.9 205.2h.01M47 191.3h.01M48.5 183.7h.01M47.1 209.4h.01M53.7 199.2h.01M50.4 207.5h.01M44.3 199.5h.01M52 211.8h.01M53.1 207.6h.01M49.2 190.9h.01M47.5 199.7h.01M52.7 177.8h.01M54.3 198.5h.01M46.5 197.3h.01M46.4 195.9h.01M53.2 207.5h.01M47 211h.01M41.8 179.6h.01M51.8 221.8h.01M51.6 196.9h.01M47.7 157.1h.01M50.6 208h.01M56.7 186.4h.01M56.6 184.1h.01M45.4 191.7h.01M50.4 190.2h.01M55.2 211.2h.01M47.5 175.6h.01M48.4 192.9h.01M49.5 196.1h.01M48.7 209.8h.01M48 196.1h.01M54.4 182h.01M43.4 196.1h.01M47 163h.01M52.2 196.2h.01M51.3 185.7h.01M45.1 204.9h.01M48 209.5h.01M45.1 197.3h.01M46.7 219.8h.01M52.2 184.5h.01M43.4 200.7h.01M48.3 201.5h.01M47.6 189.1h.01M46.9 200.6h.01M55.5 191.4h.01M47.5 196.8h.01M44.9 196h.01M41.7 181.1h.01M51.5 221.6h.01M48 221.9h.01M46.9 178.4h.01M50 175.4h.01M49.1 214.6h.01M44.5 190.7h.01M46.7 204h.01M58.1 214.4h.01M46.4 212.2h.01M51.3 209.9h.01M52.2 203.7h.01M47.5 206h.01M44.4 198.5h.01M43.9 192.9h.01M54.7 192.9h.01M49.6 211.7h.01M43.2 199.9h.01M46.8 223.3h.01M50.6 198.2h.01M50.6 198.9h.01M51.5 181.5h.01M48.6 189.1h.01M52.4 202.7h.01M56.6 177.9h.01M49.8 179.1h.01M47.5 175.2h.01M47.2 202h.01M46.7 197.9h.01M50.9 191.6h.01M57.9 191.2h.01M46.5 202.5h.01M53.5 189.6h.01M51.2 184.9h.01M50.4 195.4h.01M45.4 207.5h.01M47.5 182.6h.01M48.3 210.4h.01M54.8 216.9h.01M56.1 181h.01M50.2 176.6h.01M49.6 191.9h.01M43.7 182.1h.01M44.7 204.6h.01M51.3 197.3h.01M48.5 193.8h.01M45.2 182.8h.01M56.9 189.3h.01M47.2 169.1h.01M40.5 212.8h.01M51.2 183.2h.01M54.5 200.8h.01M49.7 181.1h.01M46.9 181.7h.01M52 173.4h.01M50.3 202.2h.01M43.2 181.1h.01M58.2 209.2h.01M53.3 175.3h.01M49.1 210.4h.01M52.4 185h.01M46.5 212.3h.01M54.2 175.2h.01M53.8 186.9h.01M55.2 184.6h.01M43.9 210.5h.01M41.8 200.6h.01M46 194.2h.01M45.2 190.9h.01M50.8 210.1h.01M41.8 204.6h.01M39.1 200.9h.01M42.9 192.4h.01M52.3 208h.01M44.4 191.1h.01M59.8 215.3h.01M44.7 188.1h.01M47.4 198.1h.01M48.2 163.6h.01M46.4 176.5h.01M52.2 183.1h.01M55.8 203.8h.01M49.5 178.2h.01M50.3 189.9h.01M44.7 207.2h.01M51.4 190.8h.01M47 170.7h.01M48.5 220.2h.01M46.6 183.8h.01M58.7 187.2h.01M48.5 209h.01M46.4 172.8h.01M49.4 201.6h.01M54.5 203.4h.01M47.3 213.6h.01M50.8 207.5h.01M49.4 213.9h.01M50.2 209.2h.01M48 216.7h.01M56.9 162.9h.01M52.8 212.5h.01M44.9 186.4h.01M49.5 201.2h.01M52.2 204.4h.01M49.6 211.6h.01M44.2 214.7h.01M51 215.7h.01M51.7 196.6h.01M50.8 194.3h.01M44.6 182.8h.01M54.3 197.4h.01M56.2 182.7h.01M43 213.2h.01M52.5 197h.01M55.5 196.1h.01M47.8 191.6h.01M47.9 186.1h.01M47 221.4h.01M43 183.5h.01M50.3 201.9h.01M39.7 177.6h.01M49.5 198.2h.01M56.2 178.7h.01M42 202.4h.01M43.8 174.3h.01M45.3 204.7h.01M55 189h.01M50.3 213.8h.01M44.7 218.8h.01M48.1 191.6h.01M44.4 187.2h.01M43 200h.01M50.8 177.1h.01M50.5 205.4h.01M51.4 219.1h.01M54.9 201.5h.01M51.5 202.5h.01M52.8 185.2h.01M44.1 178.3h.01M43.6 196.1h.01M53.5 168.5h.01M51 197.6h.01M51.7 191.8h.01M51.2 181.8h.01M62 204h.01M45.4 221.4h.01M53.7 178.9h.01M51.7 209.3h.01M47.3 211.5h.01M53.2 198.6h.01M58.1 201.8h.01M47 204.5h.01M63.4 182.6h.01M41.3 217.9h.01M47.4 209.9h.01M56.7 196.5h.01M46.8 190.7h.01M45.6 171.1h.01M52.3 206.3h.01M47.4 170.3h.01M48.8 188.8h.01M46.2 202.2h.01M50.2 205.3h.01M39.8 187.4h.01M43.3 199.9h.01M49.8 206.2h.01M48.9 216.4h.01M39.2 209.7h.01M46.1 187.7h.01M49.5 186.2h.01M51.8 219.2h.01M49.4 207.6h.01M50.3 179.5h.01M49.1 212.2h.01M50.5 213.4h.01M46.7 191.2h.01M54.1 218.1h.01M48.9 206h.01M43.4 175.5h.01M39.6 217.5h.01M42.4 184.1h.01M34.6 176.9h.01M53.5 208.7h.01M47.3 202.2h.01M45.2 214.8h.01M44.8 180.8h.01M54.1 210h.01M43.8 177.3h.01M43.9 197.4h.01M48.1 188.1h.01M44.7 184.3h.01M48.9 205.3h.01M54.9 189.1h.01M56.2 189.4h.01M52.7 209.9h.01M50 197.3h.01M59 173.7h.01M47.1 204.6h.01M52.4 210.3h.01M41.3 190.3h.01M48.8 184.6h.01M55.7 201.2h.01M51.5 197.2h.01M58.3 180.5h.01M47.9 204.4h.01M54.8 220.1h.01M50.6 196.3h.01M46.1 182.9h.01M46.8 221.2h.01M53.6 195.5h.01M56.4 199.8h.01M53.2 191.2h.01M49.1 212h.01M43.7 179h.01M48.1 185.3h.01M46.1 191.3h.01M59.2 182.7h.01M43.5 198.2h.01M47.4 184.7h.01M48.5 191.9h.01M37.8 166h.01M44.5 176h.01M50.4 191.5h.01M52 192.7h.01M52.8 174.2h.01M52 209.5h.01M49 206.8h.01M52.2 173.4h.01M46.6 197.5h.01M40.6 185.2h.01M51.6 199.4h.01M53.9 197.5h.01M48.3 188.7h.01M48.8 187h.01M49.3 198.8h.01M44 213.9h.01M51.1 203.4h.01M45.5 206.2h.01M46.8 207h.01M49.5 186h.01M51.4 208.8h.01M53.5 203.1h.01M44.3 197.6h.01M43.4 196.5h.01M47.7 209.7h.01M43.3 181.9h.01M43.5 208.5h.01M41.8 196.1h.01M49.2 187h.01M46.9 214.6h.01M55.9 179.8h.01M56.9 202.1h.01M56.2 222.3h.01M54 190.4h.01M43.4 196.7h.01M45.7 185.8h.01M49.8 215.3h.01M47.2 180.6h.01M55.3 182.5h.01M53.8 173.9h.01M52.5 187.9h.01M59.9 166.9h.01M51.5 214.8h.01M52.6 206.5h.01M45.8 189.6h.01M52.8 182.1h.01M52.1 203.5h.01M50.8 193.7h.01M48.2 208.1h.01M51.6 195.5h.01M53.7 203h.01M43.7 200.1h.01M50.3 220.3h.01M57.2 209.2h.01M54.1 175.4h.01M44.7 204.5h.01M51.1 187.4h.01M45.8 179.1h.01M49.2 210.8h.01M47.4 202.4h.01M43.5 201.2h.01M44.7 180.6h.01M45.3 196.2h.01M58.7 209.5h.01M53.4 201.8h.01M43 172.1h.01M54.3 215.3h.01M44.5 217.8h.01M51.9 191.8h.01M48.8 181.6h.01M55.5 181.3h.01M57.3 189h.01M45.8 212.4h.01M51.6 198.9h.01M44.5 193h.01M39.4 201.1h.01M43.3 206.2h.01M49.1 192.7h.01M40.2 204.8h.01M57.5 185.1h.01M50.2 211.5h.01M51.7 198.4h.01M56 192h.01M51.2 174h.01M43.3 211.1h.01M52.2 182.6h.01M50.1 192.6h.01M56.1 187.7h.01M39 204.4h.01M54.7 202h.01M54.4 222.3h.01M50 208.1h.01M48.9 215.5h.01M41.4 196.6h.01M46.5 189.7h.01M48 197.5h.01M50.5 201.1h.01M42.7 183.5h.01M45.8 210.6h.01M46.8 189.8h.01M43.6 190h.01M57.4 195.5h.01M40.1 165.5h.01M55.9 186.6h.01M43.5 205.9h.01M52.3 197.2h.01M52.8 216.8h.01M45.5 180.2h.01M57.7 178.1h.01M45.4 166.5h.01M49.3 179.1h.01M41.4 210.4h.01M50.2 195.5h.01M51.9 179.4h.01M53.3 201h.01M52.8 210.5h.01M57.3 169.6h.01M44 177.4h.01M56.7 185.5h.01M42.8 213.8h.01M43.7 206.1h.01M44.4 193.3h.01M52.5 163.9h.01M48.3 171.6h.01M58.2 171.4h.01M52.5 180h.01M52.7 174h.01M47.3 169.3h.01M51.2 168.6h.01M53.5 169.4h.01M59 170.8h.01M51.5 170.7h.01M48.4 171.9h.01M52.4 176.3h.01M48.4 180.8h.01M48.3 166.7h.01M50.8 167h.01M55.2 172.4h.01M54.3 176h.01M56.9 169.8h.01M53.7 173.5h.01M53.9 170.4h.01M48.8 173.8h.01M52.9 171.5h.01M49.1 172.1h.01M52.2 162.8h.01M49.1 174.5h.01M45 178.7h.01M49.2 178.3h.01M50.3 168.2h.01M49 172.2h.01M50.7 169.2h.01M46.9 179h.01M50.1 173.1h.01M49.4 169.1h.01M44.3 163.3h.01M49.4 164.8h.01M47.7 172.2h.01M51.9 176.6h.01M55.9 166.3h.01M52 176h.01M51.2 173.7h.01M52.7 166.4h.01M53.5 173.8h.01M47.8 169.3h.01M54.5 173.9h.01M50.4 178h.01M49.2 173.2h.01M45.5 168.7h.01M51.5 168.3h.01M50 171.7h.01M49.1 167.2h.01M54 170.8h.01M53.8 172.6h.01M49.1 168h.01M48.9 171.7h.01M50.9 168.1h.01M52.8 171.3h.01M49.3 171.6h.01M51.6 172.4h.01M49.4 166.4h.01M45.4 168.2h.01M53.8 171.6h.01M49.2 174.1h.01M50.3 166.3h.01M49.3 174.3h.01M53.4 170.6h.01M52.8 168.5h.01M47.3 172.9h.01M45.7 171h.01M43.5 172h.01M50.5 169.5h.01M46.2 167.7h.01M51.5 170.1h.01M41.2 177.5h.01M53 176h.01M46.8 172.5h.01M53.5 167.9h.01M50.7 173.8h.01M42 167.7h.01M57.7 169.9h.01M51.5 171.5h.01M48.4 172.2h.01M50.2 175.8h.01M49.7 174.3h.01M42.1 172.1h.01M48.9 165.3h.01M46.3 169.4h.01M49.1 170h.01M44.2 170.8h.01M53.6 169.1h.01M45.3 178.2h.01M46.8 172.2h.01M48.9 173.5h.01M55.3 169.7h.01M58.8 170h.01M52.2 175.8h.01M50.5 172.2h.01M56.4 170.4h.01M49 168h.01M52.1 175.2h.01M50.9 178.4h.01M48.6 174.8h.01M56.2 172.1h.01M57.1 170.3h.01M46.3 175.4h.01M53.5 173.5h.01M47.6 171.8h.01M40.1 171.3h.01M51 168.9h.01M48.4 169.7h.01M46.7 176.6h.01M52.6 174.6h.01M53.5 174.3h.01M49.2 169.4h.01M49.8 169.4h.01M59.5 165.6h.01M50.2 178h.01M51.8 175.6h.01M46.7 167h.01M41.2 172.9h.01M46.9 171.3h.01M55.4 165.3h.01M44.2 170.4h.01M51.1 166h.01M41.1 173h.01M50 179.4h.01M51.2 172h.01M44.9 170h.01M43.8 170.3h.01M49.5 171.2h.01M49.3 169.9h.01M48.8 166.7h.01M51 175.4h.01M47.4 166.1h.01M47.7 176h.01M46.5 176.7h.01M45.7 170.6h.01M45.8 165.7h.01M54.3 171.6h.01M48.9 171.4h.01M51.7 174.1h.01M49.2 171.3h.01M57 169h.01M50.8 171h.01M50.6 175.9h.01M51.8 174.7h.01M53.1 172.6h.01M44.8 177.7h.01M45.9 172.4h.01M51.2 171.8h.01M54.1 172.2h.01M56.7 174.5h.01M53.1 167.9h.01M58.1 172.8h.01M52.1 173.6h.01M52.7 175.3h.01M45.8 171.7h.01M47.3 172.1h.01M44.5 172.8h.01M44.7 164h.01M53.5 175.3h.01M47.9 169.1h.01M38.2 171.2h.01M54.4 173.5h.01M41.3 169.5h.01M50.9 166.6h.01M47.6 172.6h.01M54.4 175.9h.01M48.8 175.4h.01M50.9 169h.01M50 173.3h.01M47.8 164.6h.01M48.3 181.4h.01M43.3 169.2h.01M43.1 176.9h.01M50.5 170.3h.01M51.7 171h.01M47.8 172.5h.01M45.5 172.3h.01M51.6 176.2h.01M50.7 174.7h.01M48.8 169.2h.01M53.4 172.6h.01M51 167.7h.01M47.8 168.7h.01M52.9 174.6h.01M51.3 171.4h.01M55.4 168.5h.01M43.1 170h.01M43.2 175.5h.01M48.4 165.9h.01M53.5 195.6h.01M43.5 191.6h.01M53.5 195.5h.01M48.1 194.8h.01M49.3 208.2h.01M52.6 205.5h.01M49.6 201.8h.01M51.5 203.4h.01M46.8 200.4h.01M50.4 207.5h.01M48 208.4h.01M45.8 202.7h.01M49 210.4h.01M50.1 203.2h.01M55.9 201.1h.01M50.3 214.6h.01M49.4 201.1h.01M51.1 197.1h.01M50.9 204.3h.01M48.8 203h.01M44.6 201.6h.01M46 207h.01M49.4 207.8h.01M49.7 205.3h.01M51 205h.01M47.5 201.9h.01M50.7 202.3h.01M50.3 194.4h.01M45.1 198.7h.01M45.8 210.7h.01M50.3 208.1h.01M55.3 192.1h.01M48.8 202.1h.01M50 207.6h.01M49.9 195.8h.01M52.8 191.8h.01M45 194.7h.01M44.1 201.1h.01M46.2 191.1h.01M46.7 198.5h.01M49.6 198.9h.01M53 203.3h.01M47.3 207.7h.01M46.8 204h.01M44.7 210.6h.01M49.3 195.9h.01M52.7 200.8h.01M56.3 198.7h.01M54.2 197.7h.01M51.2 196h.01M48.1 201.7h.01M52.9 208.9h.01M48 197.6h.01M56 194h.01M51.9 198.4h.01M54.8 200.3h.01M55.6 201.2h.01M50.9 208.6h.01M51.9 199.4h.01M52.7 199.2h.01M43 200h.01M49 202.6h.01M54 206h.01M54.4 198.1h.01M52.6 193.9h.01M49.3 210.7h.01M52.6 192.4h.01M45.7 202.9h.01M55.3 196.4h.01M48.2 206.1h.01M54.2 203.8h.01M55.3 199.2h.01M48.2 206.5h.01M49.8 206.6h.01M43.9 194.2h.01M49 195.6h.01M44.5 207.3h.01M47.9 191.5h.01M45.7 208.5h.01M45.1 197.8h.01M48.1 206.6h.01M50.6 196.4h.01M49.4 197.1h.01M48.8 194.3h.01M49.1 198.8h.01M46.3 199.7h.01M49.4 214.5h.01M46.6 202.5h.01M53.5 203.2h.01M53.6 201.8h.01M47.3 201.6h.01M50.2 203.5h.01M51 218.6h.01M46.9 197.8h.01M47.5 201.8h.01M50.2 211.6h.01M51.8 201.1h.01M49.2 194.4h.01M52.8 199h.01M48.2 215.1h.01M48.1 203.2h.01M52.9 207.9h.01M53.7 207.5h.01M49.8 198.8h.01M49.1 202.9h.01M52.7 208.4h.01M47.9 199h.01M56.4 194.4h.01M49.6 202.2h.01M51.9 196.5h.01M49.5 202h.01M52.4 206.5h.01M51.7 194.8h.01M48.3 191.4h.01M44.7 204.6h.01M52.2 185h.01M50 208.5h.01M53.6 189.3h.01M47.7 203.5h.01M49.2 192.9h.01M44.5 198.5h.01M52.2 194.3h.01M49.9 196.5h.01M48.5 205.5h.01M49.5 199h.01M48.6 214.3h.01M49.7 193.6h.01M46.6 196.2h.01M58.9 207.4h.01M50.1 205.9h.01M37.4 201.2h.01M48.3 209.8h.01M55.8 205.9h.01M54.2 195.1h.01M37.7 207.2h.01M52.6 214.8h.01M43.7 192.3h.01M42.2 202.6h.01M44.6 195.9h.01M46.9 194.5h.01M47.5 190.7h.01M33.4 194.3h.01M59.2 188.1h.01M51.9 214.9h.01M40.9 201.3h.01M27.8 205.2h.01M56.5 200.4h.01M30 190.9h.01M39.4 199.5h.01M47.1 193h.01M42.6 188h.01M49.3 200.6h.01M47.6 191.9h.01M48.7 194.4h.01M47.2 196.1h.01M40 184.5h.01M31 181.1h.01M32.6 188h.01M43.4 183.6h.01M54.3 183.6h.01M44.2 190.2h.01M50.7 180h.01M47.3 200.8h.01M49.2 203.4h.01M46.1 175.9h.01M42.6 186.3h.01M49 195.2h.01M46.1 211.9h.01M44.2 219.2h.01M51.3 179.5h.01M40.6 213.3h.01M41.2 213.1h.01M40.8 196.6h.01M52.7 178.3h.01M45.6 192.4h.01M46.3 219.5h.01M48.7 181.1h.01M52.2 192.4h.01M46.2 212.6h.01M42.7 210.1h.01M46.3 186.7h.01M42.7 181h.01M53.9 200.1h.01M52.3 184.1h.01M51.4 183.1h.01M47.1 197.9h.01M40.6 201.9h.01M45.3 187.2h.01M39.4 181.7h.01M55.3 199.9h.01M42.3 206.7h.01M38.5 183.4h.01M47.7 218h.01M47.3 200h.01M58.1 178.6h.01M68 184.2h.01M44.4 181.2h.01M35.9 195h.01M63.3 186.2h.01M40.4 201.4h.01M37.4 194.8h.01M51.1 170.6h.01M42.7 194.3h.01M41.2 196.5h.01M31.5 192.5h.01M41.1 185.1h.01M54.5 223.2h.01M51 187.1h.01M55.7 204.3h.01M38.9 205.6h.01M40.7 205.2h.01M51.9 212.6h.01M37.1 196.4h.01M45 182.6h.01M48.1 206.7h.01M34.6 191.1h.01M36.7 182h.01M37 215.3h.01M40 193h.01M52.4 210.9h.01M55.6 171.9h.01M50.7 175.9h.01M40.2 192.8h.01M40.7 222.8h.01M43.7 212.8h.01M43.6 197.3h.01M48.8 203.6h.01M48.8 176.1h.01M48.8 202h.01M49.5 197.3h.01M48.1 181.6h.01M53.5 182.7h.01M55.5 210.8h.01M44.5 194.3h.01M50.8 194.2h.01M36.1 201.5h.01M35.8 192.2h.01M58.5 208.2h.01M41.6 197.1h.01M40.1 197.9h.01M34.1 206.6h.01M45.1 190.3h.01M41.7 192h.01M40.6 191.8h.01M54.8 206.6h.01M48.1 202.6h.01M36.5 167.5h.01M56.3 207.1h.01M46.6 201.5h.01M46.5 198.3h.01M43 169.9h.01M49.3 198.6h.01M52.3 201.9h.01M42.9 205.6h.01M46.4 192.4h.01M42.2 192.7h.01M42.8 192.4h.01M44.1 212.2h.01M30.2 157.1h.01M41.4 196h.01M39.4 180.8h.01M38.6 191.5h.01M46.2 193.7h.01M36 193.3h.01M56.3 186.9h.01M45.5 210.7h.01M39 190.8h.01M66.7 213.7h.01M41 200h.01M45.8 199.9h.01M48.5 194.2h.01M28.4 185.8h.01M46.1 180.7h.01M42.6 217h.01M46.8 189.7h.01M46 211.3h.01M32.2 182.2h.01M40 192.5h.01M44.3 190.7h.01M45.8 199.1h.01M36.3 190.1h.01M35.7 201.6h.01M47 206.3h.01M38.4 191.3h.01M28.4 198.1h.01M32.9 202.4h.01M53.1 203.6h.01M49.7 200.9h.01M47.8 209.9h.01M54.5 223.5h.01M43 208.5h.01M51.5 203.4h.01M47 182h.01M53.2 186.8h.01M40.1 187.2h.01M49.2 185.8h.01M48.4 205.1h.01M45.8 193.7h.01M49.5 214.5h.01M41.5 184.7h.01M40.5 186.9h.01M43.2 196h.01M27.8 216.4h.01M38.9 192.6h.01M30.3 173.1h.01M37.4 200.9h.01M51.4 175.2h.01M46.7 217.1h.01M42.9 209.6h.01M47.3 186.3h.01M52.4 190.3h.01M47.6 192.9h.01M43.4 199.9h.01M54.9 176.8h.01M36.6 199.3h.01M52.3 195.6h.01M43.6 204.6h.01M56.8 186.6h.01M33 194.4h.01M50.7 181.4h.01M65.7 172.6h.01M63.7 163.9h.01M51.3 171.2h.01M60.6 171.3h.01M50.9 153.7h.01M65.7 172.8h.01M57.3 168h.01M61.7 171.6h.01M57.9 165.5h.01M53.2 173h.01M59.6 151.5h.01M61.1 165.2h.01M51.4 165.5h.01M51.3 165.8h.01M55.7 170.5h.01M52.9 159.2h.01M55.4 161.3h.01M63.4 167h.01M49 163.8h.01M58.8 167.8h.01M48 167.4h.01M60.8 172.8h.01M65.6 167.4h.01M51.2 166.2h.01M62.9 163.5h.01M66.5 163.3h.01M52.3 172h.01M58.4 169.5h.01M57.2 168.1h.01M55.5 177.2h.01M62.9 167.4h.01M61.8 172h.01M55.8 168.8h.01M60.2 165.3h.01M54.4 167h.01M57.2 166h.01M47.4 168.4h.01M62.9 168.3h.01M69.3 172.2h.01M56.9 164.7h.01M62 166.2h.01M49.3 168.6h.01M57.2 166.9h.01M62.7 168.9h.01M71.1 164.4h.01M58.4 169.5h.01M56.4 165.5h.01M69.5 161h.01M61.1 159.5h.01M61 158.7h.01M52 173.5h.01M68.2 168.6h.01M42.7 172.9h.01M60.5 162.6h.01M56.9 161.6h.01M58.4 167.6h.01M59.7 171.8h.01M55.1 157.3h.01M52 161.9h.01M56.8 165.9h.01M58.7 174.6h.01M59.2 162.8h.01M57.2 163.8h.01M57.6 170.8h.01M52.2 171.4h.01M69.7 175.3h.01M68.7 168.4h.01M50.9 177.7h.01M58.7 169.1h.01M56.9 163.5h.01M62.7 161.3h.01M50.8 170.7h.01M56.8 163.9h.01M62 174.8h.01M57.3 167.3h.01M62.3 172.5h.01M65.2 171.3h.01M55 170.6h.01M59 159.8h.01M66.4 170.8h.01M67.2 167.7h.01M63.3 167.7h.01M60 172.4h.01M59.3 170.9h.01M58.8 173.9h.01M62.9 160h.01M68.9 170.1h.01M55.9 165h.01M70.9 168.4h.01M62 170.9h.01M55.4 176.4h.01M71.6 164.3h.01M65.8 160.2h.01M57 168.3h.01M59.3 170.7h.01M61.4 169.8h.01M58.2 169.5h.01M55.7 177.4h.01M59.4 174h.01M59.6 167.3h.01M57.9 161.8h.01M71.4 170h.01M59.8 165.8h.01M66.6 166.4h.01M56.3 165.4h.01M68.2 169.5h.01M58.1 164.9h.01M66.7 169.4h.01M57 172.3h.01M64.2 163.2h.01M67.8 172.3h.01M92.2 169.6h.01M101.6 167.8h.01M89.3 159.1h.01M75.2 164.2h.01M80.4 168.5h.01M67.6 172.2h.01M65.2 163.2h.01M86.7 158.5h.01M76.3 174.6h.01M92.6 165.7h.01M69.8 173.4h.01M98.2 159.7h.01M79.9 169.2h.01M91.1 162.2h.01M96.3 170.5h.01M95.3 177.4h.01M90.7 171.7h.01M75 163.6h.01M78.1 174.6h.01M87.1 163.7h.01M99.6 168.6h.01M102.6 171.4h.01M92.8 165.1h.01M103.2 167.8h.01M90.3 166.3h.01M84.2 161.6h.01M77.9 166.5h.01M93.1 161.2h.01M71 171.2h.01M82.2 176.1h.01M63.8 167.1h.01M96.7 173.5h.01M77.3 168.6h.01M79.1 158.1h.01M66.3 162.7h.01M98.3 161.9h.01M74.6 169.4h.01M91.2 171.3h.01M75.5 165h.01M63.5 174.3h.01M78.3 164h.01M71.4 168.1h.01M69.1 164.7h.01M67.3 161.9h.01M84.4 164.7h.01M67.3 175.9h.01M65.4 166.5h.01M74.9 159.2h.01M75 167h.01M90.9 163.3h.01M78.4 176.5h.01M88.7 167.1h.01M71.6 174.1h.01M100.7 162.9h.01M97.5 165.7h.01M82.4 158.5h.01M72.8 162.9h.01M71.2 174.9h.01M101.5 164.5h.01M95.5 164.2h.01M86.5 162h.01M99.8 168.6h.01M86.9 174.3h.01M84.2 168h.01M91.8 167.7h.01M86.3 164.1h.01M69.2 162.6h.01M102.3 170.1h.01M63.7 161.8h.01M86.6 168.5h.01M103.1 176.5h.01M65.9 174.5h.01M102.8 173.3h.01M101.6 165.8h.01M88.5 172h.01M95.3 172.7h.01M96.2 164.9h.01M95.2 170.2h.01M101.9 164.6h.01M88.1 175.6h.01M93.8 172.3h.01M68.9 161.2h.01M75.9 171.4h.01M64.3 171.5h.01M67.9 162h.01M74.2 169.2h.01M92.1 177.4h.01M72.3 159.8h.01M97.7 170.1h.01M100.2 172.7h.01M68.3 165.4h.01M71.9 167.2h.01M74.6 175.7h.01M99.3 161.9h.01M103.5 177.7h.01M78.6 175.9h.01M101.3 173.1h.01M77.7 170.9h.01M94.1 165h.01M82.3 159.8h.01M69.3 174.3h.01M75.5 172.4h.01M80.4 172.6h.01M74.6 159.8h.01M87.4 171.6h.01M65.6 180.9h.01M79.3 200.1h.01M88.8 179.6h.01M76.7 187h.01M62.1 173.4h.01M84.4 202.3h.01M84.2 169.4h.01M101.5 195.8h.01M66.5 176.6h.01M57.6 194.3h.01M66.3 197.2h.01M89.7 194.9h.01M82.5 170.9h.01M57.7 186.7h.01M56.6 183.4h.01M92.4 166.3h.01M76.5 184.3h.01M63.1 169.1h.01M84.7 167.8h.01M63.2 169.9h.01M100 200.4h.01M61.2 185.8h.01M75.3 161.4h.01M67.8 189.3h.01M56.9 203.1h.01M69.4 175.7h.01M100.6 166.3h.01M62.1 181.3h.01M70.7 174.4h.01" stroke="#4a4a4a" stroke-width="0.68" stroke-linecap="round" fill="none" opacity="0.42"/>
</g>
<g filter="url(#soft)">
<path d="M137.4 165.3h.01M138.5 171.2h.01M141.9 171.3h.01M141.7 163.9h.01M145.8 162h.01M141.7 165h.01M142.6 164.1h.01M146.6 163.8h.01M141.4 172.4h.01M143.5 166.6h.01M143.9 174.6h.01M144 167.5h.01M149.5 163.6h.01M145.9 167.3h.01M149.5 170.5h.01M143.1 171.8h.01M143.3 168.5h.01M142.6 172h.01M138.8 167.2h.01M151.9 166.6h.01M144.2 163.9h.01M141 171.4h.01M137.1 165.9h.01M139.2 173.3h.01M139.2 162.2h.01M147.1 166h.01M141.7 162.1h.01M149 163.8h.01M145.3 168.6h.01M145.1 166.4h.01M148.4 172.5h.01M139.8 167.3h.01M138.3 166.5h.01M146.3 174.9h.01M139.6 165.2h.01M136.2 175.8h.01M145.3 168.5h.01M138.9 166.5h.01M138.3 168.5h.01M148.4 170.4h.01M141.7 173h.01M144.5 172.2h.01M140.9 167.6h.01M146 165.8h.01M147.4 169.5h.01M136.8 167h.01M147.4 173.2h.01M141.6 161.4h.01M136.8 168.2h.01M141.8 167.1h.01M145.1 167.2h.01M149.3 169.2h.01M137.7 169.7h.01M144.6 166.6h.01M148 161.7h.01M141.1 164.4h.01M144.6 171.6h.01M142.6 167h.01M142.4 166.5h.01M140.2 167h.01M142 168.1h.01M146.8 166.7h.01M142.3 168.2h.01M141.3 169.4h.01M138.3 168.2h.01M147.6 168.3h.01M143.3 169.2h.01M144.1 166.3h.01M143.2 162.4h.01M144.1 162.1h.01M148 171.2h.01M143.2 168.4h.01M137.4 165.6h.01M140.3 163.9h.01M144.2 167.9h.01M141.1 166.5h.01M141.6 166.9h.01M145.4 173.2h.01M138 164.3h.01M144.7 170.3h.01M150.2 168.3h.01M140.3 171.2h.01M147.7 170.1h.01M139.8 168.7h.01M144.8 163.1h.01M137.3 170.4h.01M149.2 168.1h.01M148.5 170.1h.01M147.5 164.2h.01M142.9 170.9h.01M147.2 166.6h.01M140.2 168.1h.01M145.3 168.7h.01M146.1 163.1h.01M139.9 165.7h.01M148.4 166.8h.01M142.5 163.1h.01M141.9 169.1h.01M146.7 172.6h.01M134 168h.01M139.6 164.2h.01M146 166.7h.01M142.4 170.9h.01M139.5 169.6h.01M146.2 167.1h.01M142.2 163.4h.01M145.8 165.1h.01M148.6 167.4h.01M141.5 169.2h.01M144.7 171.3h.01M146.6 163.9h.01M146.5 163.2h.01M138 161.8h.01M147.2 166h.01M140.6 172.5h.01M140.5 166.5h.01M139.5 173h.01M143.6 170.7h.01M140.5 172.3h.01M147.1 165.6h.01M148 167.1h.01M146.6 166.4h.01M140.7 171.2h.01M142.5 167.8h.01M146.3 167.1h.01M144.5 168.4h.01M141.1 165.5h.01M143.2 163.7h.01M141.7 166.6h.01M140.4 169h.01M149.4 163.7h.01M142.1 165.4h.01M138.8 171.3h.01M139.4 169.8h.01M150 165.8h.01M146.2 169.3h.01M145.7 173.3h.01M148 169.7h.01M136.7 165.1h.01M138.6 167.2h.01M145.1 167.2h.01M148.2 163.9h.01M142.4 169.1h.01M146.6 168.6h.01M140.9 168.6h.01M144 169.9h.01M137.2 164.4h.01M140.8 169h.01M142.1 163.7h.01M145.8 167.1h.01M148.4 164.8h.01M138.7 168.4h.01M144 163.7h.01M139.8 168.7h.01M150.2 169.3h.01M136.6 164.3h.01M140 164.1h.01M143.1 173.3h.01M148.5 170.6h.01M151.2 170.6h.01M140.7 173.2h.01M142.5 163.3h.01M142.8 172.9h.01M145.8 169.8h.01M137.3 168h.01M137 164.4h.01M149.6 169.9h.01M147.3 163.3h.01M147.3 166.7h.01M136 170.4h.01M148.6 167.1h.01M147.7 161.6h.01M143.2 166.4h.01M141 164h.01M143.7 170.1h.01M144.5 168.8h.01M143.8 165.6h.01M140.6 169.3h.01M143.3 160.9h.01M142.5 167.4h.01M145.9 164.9h.01M146.7 172.6h.01M135.5 168.8h.01M143 161.2h.01M140.8 165.6h.01M139.8 159.5h.01M140 167.3h.01M146.6 168h.01M136.1 165.1h.01M147.1 172h.01M137.4 166.5h.01M141.8 167h.01M139.3 168.5h.01M142.2 160.5h.01M150 168.7h.01M143.5 172.1h.01M144.6 170.6h.01M144.7 170.3h.01M137.3 172.4h.01M141.4 166.8h.01M141.9 166.8h.01M140.8 165.4h.01M139 166.3h.01M142.8 165.5h.01M135.8 169.6h.01M139.1 167.1h.01M143 169.4h.01M145.2 165.3h.01M140 172.7h.01M139 162h.01M163.4 173.2h.01M162.9 167.7h.01M167.2 168.8h.01M160.8 170.8h.01M163 170.7h.01M160.1 169.9h.01M165.1 169.8h.01M165.2 165.9h.01M167.8 169.5h.01M167.1 162.3h.01M162.7 168.9h.01M161 170h.01M170.7 171.9h.01M167.8 164.9h.01M153.4 167.3h.01M165.9 168.7h.01M163.7 166h.01M170.2 176.5h.01M155.5 172.6h.01M161.6 173.6h.01M167.5 173.4h.01M171.2 170.2h.01M172 169h.01M171.3 168.3h.01M164.6 169.8h.01M169.4 170.6h.01M175.7 167.9h.01M165.7 172.5h.01M161.6 173.4h.01M158.2 167.7h.01M161.5 169.5h.01M171 167.1h.01M161.5 165.5h.01M178.1 170.9h.01M161.6 168.9h.01M173.2 172.4h.01M171.7 171.8h.01M168.9 168.9h.01M154.4 164.1h.01M172.6 173.3h.01M170.3 167.2h.01M170.8 176h.01M168.7 175h.01M159.8 166.9h.01M160.8 164.2h.01M166.3 168.9h.01M165.2 164.3h.01M175.3 170.2h.01M174.5 172.7h.01M162.9 174.5h.01M170.1 166.5h.01M166.7 171.4h.01M173.2 168h.01M164.7 165.6h.01M169.5 175.9h.01M157.3 172.3h.01M164.7 166.7h.01M162 168.1h.01M162.3 170.1h.01M170.7 171.8h.01M169.3 173h.01M160.9 163.7h.01M164.8 164.5h.01M165 167.3h.01M170.9 166.6h.01M164.8 169.1h.01M164.9 174.9h.01M160.7 163.4h.01M165.5 166.9h.01M166.6 166.9h.01M160.9 168.4h.01M167.4 176.3h.01M160.2 165.3h.01M164.1 166.5h.01M168.2 167.1h.01M162.9 171.3h.01M156.1 172.2h.01M160.3 168.9h.01M165.7 169.1h.01M163.2 169.9h.01M172.5 164.9h.01M164.4 171.1h.01M167.1 171h.01M161.8 168.4h.01M162.7 170.4h.01M163.3 166.8h.01M171.8 168.7h.01M157.5 165.1h.01M153.6 169.8h.01M163.4 164.9h.01M166.2 171.3h.01M161.8 170.6h.01M162.9 170.2h.01M173.4 164.9h.01M162.1 170.5h.01M171.6 171.7h.01M162.6 167.2h.01M167.1 163.4h.01M168.2 168.3h.01M168.7 175.2h.01M157.2 171.3h.01M161.6 164.7h.01M167.3 173.1h.01M164.7 170.3h.01M166.3 166.8h.01M163.7 173.4h.01M168.8 170.2h.01M166.5 167.4h.01M157 166.5h.01M162.1 165.7h.01M166.2 170.9h.01M161.5 171.3h.01M166 167.9h.01M166.6 168.8h.01M171.9 170.2h.01M157.8 171.7h.01M164.3 166.2h.01M163.3 164.5h.01M154.6 169.9h.01M159.6 166.8h.01M162 168.2h.01M167 172.4h.01M159.7 165.2h.01M153.9 174.2h.01M171.2 165.1h.01M169.5 170.4h.01M163.7 170.2h.01M172 167.7h.01M163.2 172.4h.01M162.1 163.2h.01M162.3 168.4h.01M162.5 171.8h.01M167.6 170.7h.01M168.3 169.7h.01M166.1 167.1h.01M168.2 168.4h.01M170.4 168.1h.01M171 166h.01M167.9 167.4h.01M164.8 170.3h.01M167.3 160.7h.01M169.1 170.3h.01M170.6 168.5h.01M171.2 168.6h.01M166.8 167h.01M172.6 171.3h.01M154.4 169.5h.01M166.7 174.9h.01M170.1 163.1h.01M154.9 169.9h.01M161.2 173.6h.01M160.1 165.2h.01M164.2 172.5h.01M160.1 163.2h.01M168.3 166.8h.01M159.1 171h.01M155.1 168h.01M174.1 168.6h.01M156.8 167.1h.01M170.5 175.6h.01M157.5 173.5h.01M157.9 173.8h.01M159.7 167.9h.01M162.4 168.6h.01M166.4 166.4h.01M160.1 169.3h.01M175.3 168.7h.01M162.3 173.8h.01M168 172.7h.01M158.5 167.2h.01M162.9 175.2h.01M163.4 165.9h.01M170.9 170.1h.01M168.8 172.9h.01M165.3 163.5h.01M168 164.9h.01M165.9 169.1h.01M164.6 164.4h.01M167.8 173.7h.01M166.7 168.6h.01M159.8 174.5h.01M161.8 165.7h.01M164.1 167h.01M164.4 165.6h.01M166.2 165.6h.01M164.9 167.6h.01M166.1 170.7h.01M174.6 164.3h.01M159.5 173.6h.01M164.7 163.8h.01M168.3 166.3h.01M163.3 164.3h.01M160 175.8h.01M165.8 172.6h.01M163.7 170.4h.01M169 170.4h.01M166.8 171.3h.01M152.1 171h.01M173.2 171.8h.01M176 169.5h.01M155.8 168.5h.01M172.2 168.4h.01M163 166.1h.01M171.7 169.2h.01M161 165.8h.01M162.2 170.9h.01M166.4 171.2h.01M160.9 170.4h.01M163.4 164.5h.01M162 169.4h.01M168.9 178.1h.01M171.4 170.5h.01M167 168.7h.01M157.6 167.4h.01M162.1 168.7h.01M172.9 167.1h.01M162.1 166.2h.01M164.6 171h.01M161.7 165.1h.01M158.6 167.5h.01M182.2 169h.01M179.1 170.5h.01M178.7 173.1h.01M186.4 170.9h.01M186.7 176h.01M181.8 170h.01M180.9 177.4h.01M180.8 174.7h.01M180.8 172.5h.01M183 172.1h.01M183.4 169.1h.01M178.8 172.7h.01M181.5 175.3h.01M178.4 172.3h.01M183.1 175.6h.01M184.8 176h.01M183.5 177.7h.01M177.4 176.8h.01M181 171.5h.01M187.1 174h.01M186.6 168.7h.01M183 175.4h.01M187.2 173h.01M184.1 169.4h.01M181.2 174.4h.01M183.2 172.7h.01M184.8 171.5h.01M177.1 173.3h.01M179.4 172.4h.01M179.9 171.8h.01M181.5 173.9h.01M182.1 172.8h.01M182.6 175.8h.01M182.4 169.2h.01M182.8 169.2h.01M182.2 175.4h.01M182.2 170.9h.01M179.4 173.8h.01M180.9 176.8h.01M182.4 168.4h.01M185.6 168.6h.01M186.3 168.1h.01M182.5 171.5h.01M180 173.2h.01M180.6 176.6h.01M182.3 175.2h.01M182.8 174.1h.01M182.2 172.2h.01M182.5 173h.01M180.3 171.4h.01M188.2 167.5h.01M187.9 175.7h.01M183.6 171.4h.01M177.4 171.8h.01M180.5 174.9h.01M177.1 173.9h.01M176.5 174.4h.01M185.6 169.4h.01M185.8 176.5h.01M186.1 171.7h.01M186.3 173.1h.01M185.6 168.2h.01M187.6 172h.01M179.6 172.8h.01M179.4 169h.01M186.4 171.1h.01M180.8 168.7h.01M182.1 172.4h.01M180 171.2h.01M184.4 170.3h.01M182.3 174h.01M184.7 174.5h.01M184.4 171h.01M184.2 170.4h.01M186 174.3h.01M180.9 176.2h.01M181.2 176h.01M183.7 171.8h.01M183.9 169.5h.01M188.5 173.9h.01M176.5 170.8h.01M178.6 173h.01M182.8 171.1h.01M179.5 169.8h.01M183.3 168.7h.01M184.5 174.9h.01M183.2 176.1h.01M184.2 169.4h.01M182.8 172.5h.01M180.2 172.5h.01M183.4 170.5h.01M179 172.8h.01M189.3 173.3h.01M183.8 174.3h.01M179.7 177h.01M177.9 171.6h.01M183.6 167.7h.01M182.7 169.2h.01M177.4 171.6h.01M179.8 172h.01M181 173.7h.01M188.1 173h.01M181.9 171.5h.01M183.5 173.9h.01M182.4 171.3h.01M183 169.1h.01M184.5 173.8h.01M177.7 172.6h.01M187.2 170.7h.01M181.5 173.5h.01M184.3 170.5h.01M181.1 173.1h.01M177.7 171.7h.01M184.2 173h.01M183.2 174.4h.01M180.6 173.2h.01M187.3 175.7h.01M185.1 171.5h.01M179.7 172.2h.01M182.2 167.1h.01M184.7 167h.01M188.4 168.7h.01M181.7 173.2h.01M180.1 175.5h.01M178.9 169.9h.01M183.6 174.3h.01M181.4 173.3h.01M183.7 176.1h.01M180.3 174.2h.01M180.8 172.2h.01M184.6 170.4h.01M179.3 170.4h.01M183.9 170.7h.01M185.9 171.1h.01M184.1 174.3h.01M178.4 171.3h.01M184 169.7h.01M180.6 173.8h.01M184.9 174.1h.01M182.5 176.1h.01M186.7 170.8h.01M186.3 166.9h.01M183.3 176.4h.01M182.5 176.4h.01M186.2 169.7h.01M187.1 172.6h.01M179.5 169.4h.01M185.3 170.9h.01M184.1 170.5h.01M177.9 174.1h.01M184.5 174.4h.01M179.6 176.3h.01M181 176.3h.01M185.2 170.1h.01M183.8 172.2h.01M184 171.7h.01M183 173.9h.01M177.6 173.1h.01M178 175.3h.01M184.9 178.3h.01M188 172.2h.01M182.2 176.2h.01M183 174.6h.01M184.7 171.2h.01M177.8 171.5h.01M182.9 176h.01M182.9 176h.01M179.6 168.8h.01M184.3 171.1h.01M181.8 171.9h.01M187.3 172.8h.01M181.4 173.5h.01M185.8 171.1h.01M181.7 173.7h.01M179.1 177.5h.01M183.2 168.4h.01M187.5 168.1h.01M180 176.7h.01M185.3 169h.01M182.8 170.5h.01M178.8 174.7h.01M180.1 175.7h.01M183.8 174.2h.01M180.8 174.3h.01M177.7 175.8h.01M180.9 172.2h.01M187.2 171.5h.01M179.4 170.8h.01M183.7 175.4h.01M182.8 174.3h.01M183 175h.01M184.3 167.7h.01M187.2 174.4h.01M183 177.9h.01M181.3 175.1h.01M183.9 175.9h.01M187.5 168.9h.01M179.7 171.6h.01M184.6 170h.01M185.4 173.3h.01M164.3 170h.01M146.9 170.6h.01M132.4 173.7h.01M186.6 164.3h.01M156.8 171.6h.01M171 174.6h.01M150.8 174.3h.01M152.5 174.7h.01M160.9 171.2h.01M183 164.5h.01M160.4 167.4h.01M135.5 174.7h.01M143.2 164.3h.01M139.7 174.7h.01M172.2 167.1h.01M159.8 167.6h.01M160.1 162.2h.01M148.4 177.8h.01M150.2 173.4h.01M167.3 169.4h.01M167.4 173.3h.01M164.8 174.9h.01M149.1 165.4h.01M158.2 174.9h.01M160.4 161.6h.01M158.4 176.7h.01M141.5 171.2h.01M148.2 170.7h.01M175.5 167.1h.01M141.8 169.1h.01M188 162h.01M149.3 165.2h.01M158.9 174.9h.01M164 171.5h.01M144.8 170.6h.01M174.7 167.1h.01M133.1 178h.01M160.8 177.9h.01M166.8 167.3h.01M142.1 177.4h.01M175.5 171.3h.01M133 166.6h.01M156.1 163.1h.01M158.9 169.5h.01M143.6 170.4h.01M186.2 176.3h.01M178.8 166.7h.01M145.3 169.6h.01M185.2 165.1h.01M136.2 176h.01M132.7 170.2h.01M188.1 171.2h.01M132.5 166.7h.01M174.8 173h.01M136.9 169.4h.01M159.4 164.3h.01M139.4 166.8h.01M154.8 177.7h.01M150.7 176.7h.01M133.2 169.4h.01M140.6 162.5h.01M148.6 173.3h.01M166.6 166.4h.01M173.5 173.5h.01M181.3 173.2h.01M137.1 174.8h.01M186.4 176.4h.01M169.5 163.6h.01M181.4 169.9h.01M173.5 177.2h.01M144.1 161.9h.01M185.4 176.6h.01M136.9 169.3h.01M180.9 171.9h.01M161.7 178.5h.01M133.7 167.8h.01M140.9 177.9h.01M165.3 166h.01M181.5 177h.01M159.5 177.7h.01M144.3 173.2h.01M188.6 165.4h.01M172.1 175.6h.01M181.3 166h.01M153.9 163.4h.01M160.8 176.2h.01M148.9 176.5h.01M147.1 169.5h.01M169.7 175.3h.01M185.7 167.6h.01M154.3 174.4h.01M177.4 174.9h.01M147.2 176.2h.01M175.6 171.6h.01M151.1 173.8h.01M135.9 174.1h.01M155.8 174.4h.01M165.5 167.6h.01M150.1 170h.01M139.7 165.9h.01M168.4 164.8h.01M184.4 170.5h.01M150.3 164.5h.01M147.8 168.2h.01M139.8 166.7h.01M186.9 177.4h.01M184 177.6h.01M172 177.9h.01M168.5 168.5h.01M141.6 172.6h.01M187 177.5h.01M187.5 169h.01M171 178.5h.01M173.2 176h.01M181.6 170.9h.01M181.8 167.5h.01M179.1 168.9h.01M144.3 175.6h.01M177.2 172.3h.01M158.8 166h.01M180 172.8h.01M170.2 175.5h.01M133.5 175h.01M180.7 163.9h.01M134.7 176.2h.01M146.9 170.6h.01M185 164.8h.01M160.2 162.5h.01M181.7 176.1h.01M156.9 175h.01M140.6 175.2h.01M178.1 173.9h.01M133.9 166.6h.01M169.7 175.7h.01M160.1 173.2h.01M158 171.4h.01M148.2 164.9h.01M181.6 170.9h.01M150.3 166.5h.01M151.2 170.3h.01M141 169.2h.01M152 168.1h.01M152.9 162.3h.01M182.4 166.7h.01M174.6 177.6h.01M153.7 167.4h.01M170.6 177.5h.01M162.4 172.5h.01M138.2 166.8h.01M157.9 172.6h.01M153.7 174h.01M179.8 165.7h.01M162 163.2h.01M150.3 171.3h.01M179.2 164.8h.01M177.6 172.7h.01M178.9 162.6h.01M161.5 164h.01M176.2 173h.01M145.1 178.3h.01M183.1 168.1h.01M144.3 174.7h.01M151.3 176.1h.01M147.8 176h.01M152.1 171.5h.01M149.9 172h.01M135.4 167.7h.01M152.1 171.5h.01M177.7 169.9h.01M186.3 164.1h.01M139 176h.01M141.9 202.3h.01M132.7 201.5h.01M124.1 191.6h.01M142.4 176.4h.01M141.4 171.3h.01M156.5 195.6h.01M149.6 176.7h.01M120.3 188.8h.01M151.8 187.7h.01M150.2 195.7h.01M143 205h.01M134.9 184.1h.01M149.6 196.5h.01M135.4 174.5h.01M148 187.9h.01M128.8 195.8h.01M144.2 222.5h.01M142.6 154.1h.01M132 200.9h.01M135.9 189.1h.01M139.3 210.4h.01M142.9 187.7h.01M134.5 204.4h.01M134.1 195.9h.01M143.7 200.6h.01M146.8 194h.01M157.1 201.2h.01M133.6 177h.01M134.1 209h.01M130.6 212.4h.01M143.7 181.6h.01M131.5 188.6h.01M146.6 188.9h.01M146.2 192.4h.01M151.7 183h.01M138.9 173.8h.01M137.3 175.8h.01M127.1 186.8h.01M145.9 157.9h.01M129.2 170h.01M143.2 198h.01M142.8 187.3h.01M133.5 192.6h.01M132.7 186.7h.01M143.5 186.3h.01M150.3 158.9h.01M126.5 204.2h.01M135.2 183.3h.01M135.4 189.1h.01M138.7 195.1h.01M147.9 216.4h.01M122 188.4h.01M132.5 193h.01M131.5 190.9h.01M142.4 189.4h.01M142 199.3h.01M131.1 189.3h.01M148.9 203.2h.01M148.4 178.1h.01M134.4 204h.01M140.1 194.2h.01M137.1 203h.01M141.5 175.8h.01M143.2 185h.01M137.8 198h.01M141.3 181.8h.01M130.1 183.6h.01M138.9 173h.01M134.8 223.1h.01M134.6 190.9h.01M129.6 185.4h.01M142.1 192.3h.01M125.7 190.5h.01M131.8 205.5h.01M139.2 212.5h.01M143.1 173.4h.01M148.1 183h.01M139.1 191.3h.01M129.1 206.6h.01M141.3 175.3h.01M128.4 196.5h.01M150.3 195.7h.01M142.7 184h.01M149.3 197.7h.01M133.3 181.3h.01M121.8 206.4h.01M165.3 188.3h.01M143.7 200.8h.01M138.2 220.4h.01M131.5 178.1h.01M153.7 203h.01M146.4 188.5h.01M139.6 192.1h.01M143.6 181.4h.01M148.8 214.8h.01M135.6 176.5h.01M131.9 209.1h.01M134.3 179.3h.01M149.2 187.6h.01M139.7 200h.01M149.6 193.4h.01M153.2 180.5h.01M135.6 199.7h.01M145.5 165.5h.01M137.4 199.8h.01M138.7 215.5h.01M126.6 192.9h.01M132.9 167.5h.01M138 189.2h.01M132.7 168.2h.01M139.9 165.7h.01M131.5 163.5h.01M141.6 163.1h.01M144.7 166.5h.01M134.7 181.9h.01M129 180h.01M127.7 169.2h.01M138.2 174.1h.01M136.9 174h.01M143.9 162.3h.01M131.1 177.4h.01M126.7 167.9h.01M148.8 180.2h.01M137.9 172.6h.01M134.1 166.7h.01M130.1 166.1h.01M127.8 172.9h.01M137.4 166.4h.01M135.8 164h.01M137.1 170.1h.01M134.6 173.3h.01M142.4 173.4h.01M131.3 173h.01M137.2 175.3h.01M141 167.1h.01M128.3 175.9h.01M128.6 174.8h.01M150.4 179.7h.01M126.7 167.1h.01M137.2 170.4h.01M139 173.6h.01M136.9 175.5h.01M126.2 179h.01M127 166.7h.01M121.3 172.1h.01M137.3 169.8h.01M128.2 158.9h.01M138.2 165.1h.01M132.9 173.6h.01M134.6 174.6h.01M144.4 176.4h.01M129.3 171.9h.01M133.7 166.9h.01M138.7 169.8h.01M136.4 176h.01M146.9 168.4h.01M139.1 185.2h.01M144.1 174h.01M130.8 173.1h.01" stroke="#4a4a4a" stroke-width="0.68" stroke-linecap="round" fill="none" opacity="0.42"/>
</g>
<rect x="64.4" y="155" width="40" height="24.4" fill="none" stroke="#333" stroke-width="0.7"/>
<rect x="150.4" y="154.6" width="39.5" height="24.6" fill="none" stroke="#333" stroke-width="0.7"/>
<text x="102.4" y="152.3" font-size="6.2" font-weight="normal" text-anchor="end" fill="#2a2a2a">14.3</text>
<text x="187.6" y="152" font-size="6.2" font-weight="normal" text-anchor="end" fill="#2a2a2a">65.2</text>
<text x="67.8" y="141.4" font-size="6" font-weight="bold" text-anchor="middle" fill="#111" stroke="#111" stroke-width="0.22">rIgG/PBS</text>
<text x="155.8" y="140.3" font-size="6" font-weight="bold" text-anchor="middle" fill="#111" stroke="#111" stroke-width="0.22">anti-CD40/IL-2</text>
<text transform="translate(15.4 184.8) rotate(-90)" font-size="6.2" font-weight="bold" text-anchor="middle" fill="#111" stroke="#111" stroke-width="0.22">PE-Cy7-A CD44</text>
<text x="102.2" y="239" font-size="6.0" font-weight="bold" text-anchor="middle" fill="#111" stroke="#111" stroke-width="0.22">APC-A: BrDU</text>
<line x1="18.3" y1="231.1" x2="18.3" y2="142.3" stroke="#000" stroke-width="1.3"/>
<path d="M14.4 146.4L18.3 142L22.2 146.4" stroke="#000" stroke-width="1.3" fill="none" stroke-linejoin="miter"/>
<line x1="17.7" y1="230.5" x2="191.1" y2="230.5" stroke="#000" stroke-width="1.3"/>
<path d="M187 226.6L191.4 230.5L187 234.4" stroke="#000" stroke-width="1.3" fill="none" stroke-linejoin="miter"/>
</g>
<g id="panelB">
<line x1="251.5" y1="70.6" x2="251.5" y2="70" stroke="#111" stroke-width="1.1"/>
<line x1="245" y1="70" x2="258" y2="70" stroke="#111" stroke-width="1.1"/>
<rect x="239.6" y="70.6" width="23.8" height="26.9" fill="#fff" stroke="#111" stroke-width="1.0"/>
<line x1="251.5" y1="97.5" x2="251.5" y2="100.1" stroke="#111" stroke-width="1.0"/>
<line x1="285.9" y1="38.6" x2="285.9" y2="33.6" stroke="#111" stroke-width="1.1"/>
<line x1="280" y1="33.6" x2="292" y2="33.6" stroke="#111" stroke-width="1.1"/>
<rect x="274.2" y="38.6" width="23.4" height="58.9" fill="#606060" stroke="#111" stroke-width="1.0"/>
<line x1="285.9" y1="97.5" x2="285.9" y2="100.1" stroke="#111" stroke-width="1.0"/>
<line x1="320.6" y1="33.6" x2="320.6" y2="30.6" stroke="#111" stroke-width="1.1"/>
<line x1="314.2" y1="30.6" x2="327" y2="30.6" stroke="#111" stroke-width="1.1"/>
<rect x="309.2" y="33.6" width="22.8" height="63.9" fill="#1c1c1c" stroke="#111" stroke-width="1.0"/>
<line x1="320.6" y1="97.5" x2="320.6" y2="100.1" stroke="#111" stroke-width="1.0"/>
<line x1="235" y1="28.2" x2="235" y2="98.1" stroke="#111" stroke-width="1.3"/>
<line x1="234.4" y1="97.5" x2="338" y2="97.5" stroke="#111" stroke-width="1.3"/>
<line x1="232" y1="28.5" x2="235" y2="28.5" stroke="#111" stroke-width="1.1"/>
<text x="231" y="30.5" font-size="5.5" font-weight="bold" text-anchor="end" fill="#111" stroke="#111" stroke-width="0.22">70</text>
<line x1="232" y1="48.2" x2="235" y2="48.2" stroke="#111" stroke-width="1.1"/>
<text x="231" y="50.2" font-size="5.5" font-weight="bold" text-anchor="end" fill="#111" stroke="#111" stroke-width="0.22">50</text>
<line x1="232" y1="68" x2="235" y2="68" stroke="#111" stroke-width="1.1"/>
<text x="231" y="70" font-size="5.5" font-weight="bold" text-anchor="end" fill="#111" stroke="#111" stroke-width="0.22">30</text>
<line x1="232" y1="87.6" x2="235" y2="87.6" stroke="#111" stroke-width="1.1"/>
<text x="231" y="89.6" font-size="5.5" font-weight="bold" text-anchor="end" fill="#111" stroke="#111" stroke-width="0.22">10</text>
<line x1="232" y1="97.5" x2="235" y2="97.5" stroke="#111" stroke-width="1.1"/>
<text x="231" y="99.5" font-size="5.5" font-weight="bold" text-anchor="end" fill="#111" stroke="#111" stroke-width="0.22">0</text>
<line x1="248" y1="20.5" x2="322" y2="20.5" stroke="#111" stroke-width="1.3"/>
<line x1="248.4" y1="24.7" x2="283.6" y2="24.7" stroke="#111" stroke-width="1.3"/>
<text x="284" y="19.1" font-size="8.5" font-weight="bold" text-anchor="middle" fill="#111" stroke="none">***</text>
<text transform="translate(223.2 64.8) rotate(-90)" font-size="5.8" font-weight="bold" text-anchor="middle" fill="#111" stroke="#111" stroke-width="0.22">% CD44<tspan font-size="4.5" dy="-2.1">high</tspan><tspan dy="2.1"> of OT-I cells</tspan></text>
<text x="250.6" y="107.8" font-size="6" font-weight="bold" text-anchor="middle" fill="#111" stroke="#111" stroke-width="0.22">rIgG/PBS</text>
<text x="288.2" y="107.8" font-size="6" font-weight="bold" text-anchor="middle" fill="#111" stroke="#111" stroke-width="0.22">anti-CD40/IL-2</text>
<text x="320.2" y="106.8" font-size="6" font-weight="bold" text-anchor="middle" fill="#111" stroke="#111" stroke-width="0.22">OVA</text>
</g>
<g id="panelC">
<line x1="392.9" y1="76" x2="392.9" y2="74.4" stroke="#111" stroke-width="1.1"/>
<line x1="386" y1="74.4" x2="400" y2="74.4" stroke="#111" stroke-width="1.1"/>
<rect x="380.2" y="76" width="25.4" height="21.5" fill="#fff" stroke="#111" stroke-width="1.0"/>
<line x1="392.9" y1="97.5" x2="392.9" y2="100.1" stroke="#111" stroke-width="1.0"/>
<line x1="430.1" y1="40.2" x2="430.1" y2="26.2" stroke="#111" stroke-width="1.1"/>
<line x1="423.6" y1="26.2" x2="437" y2="26.2" stroke="#111" stroke-width="1.1"/>
<rect x="417.2" y="40.2" width="25.8" height="57.3" fill="#4d4d4d" stroke="#111" stroke-width="1.0"/>
<line x1="430.1" y1="97.5" x2="430.1" y2="100.1" stroke="#111" stroke-width="1.0"/>
<line x1="467.3" y1="87" x2="467.3" y2="83.2" stroke="#111" stroke-width="1.1"/>
<line x1="460.4" y1="83.2" x2="474" y2="83.2" stroke="#111" stroke-width="1.1"/>
<rect x="454.6" y="87" width="25.4" height="10.5" fill="#1c1c1c" stroke="#111" stroke-width="1.0"/>
<line x1="467.3" y1="97.5" x2="467.3" y2="100.1" stroke="#111" stroke-width="1.0"/>
<line x1="375" y1="23.8" x2="375" y2="98.1" stroke="#111" stroke-width="1.3"/>
<line x1="374.4" y1="97.5" x2="485.6" y2="97.5" stroke="#111" stroke-width="1.3"/>
<line x1="372" y1="24.1" x2="375" y2="24.1" stroke="#111" stroke-width="1.1"/>
<text x="371" y="26.1" font-size="5.5" font-weight="bold" text-anchor="end" fill="#111" stroke="#111" stroke-width="0.22">9</text>
<line x1="372" y1="40.4" x2="375" y2="40.4" stroke="#111" stroke-width="1.1"/>
<text x="371" y="42.4" font-size="5.5" font-weight="bold" text-anchor="end" fill="#111" stroke="#111" stroke-width="0.22">7</text>
<line x1="372" y1="56.7" x2="375" y2="56.7" stroke="#111" stroke-width="1.1"/>
<text x="371" y="58.7" font-size="5.5" font-weight="bold" text-anchor="end" fill="#111" stroke="#111" stroke-width="0.22">5</text>
<line x1="372" y1="73" x2="375" y2="73" stroke="#111" stroke-width="1.1"/>
<text x="371" y="75" font-size="5.5" font-weight="bold" text-anchor="end" fill="#111" stroke="#111" stroke-width="0.22">3</text>
<line x1="372" y1="89.4" x2="375" y2="89.4" stroke="#111" stroke-width="1.1"/>
<text x="371" y="91.4" font-size="5.5" font-weight="bold" text-anchor="end" fill="#111" stroke="#111" stroke-width="0.22">1</text>
<line x1="372" y1="97.5" x2="375" y2="97.5" stroke="#111" stroke-width="1.1"/>
<text x="371" y="99.5" font-size="5.5" font-weight="bold" text-anchor="end" fill="#111" stroke="#111" stroke-width="0.22">0</text>
<line x1="396" y1="23.6" x2="429.2" y2="23.6" stroke="#111" stroke-width="1.3"/>
<line x1="432.2" y1="23.6" x2="462.2" y2="23.6" stroke="#111" stroke-width="1.3"/>
<text x="413.4" y="22.3" font-size="8.5" font-weight="bold" text-anchor="middle" fill="#111" stroke="none">*</text>
<text x="448.2" y="22.5" font-size="8.5" font-weight="bold" text-anchor="middle" fill="#111" stroke="none">**</text>
<text transform="translate(363.2 60) rotate(-90)" font-size="6.25" font-weight="bold" text-anchor="middle" fill="#111" stroke="#111" stroke-width="0.22">CD44<tspan font-size="4.5" dy="-2.1">high</tspan><tspan dy="2.1"> OT-I cells (x10</tspan><tspan font-size="4.5" dy="-2.1">6</tspan><tspan dy="2.1">)</tspan></text>
<text x="395" y="107.3" font-size="6" font-weight="bold" text-anchor="middle" fill="#111" stroke="#111" stroke-width="0.22">rIgG/PBS</text>
<text x="433.2" y="107.3" font-size="6" font-weight="bold" text-anchor="middle" fill="#111" stroke="#111" stroke-width="0.22">anti-CD40/IL-2</text>
<text x="468" y="107.1" font-size="6" font-weight="bold" text-anchor="middle" fill="#111" stroke="#111" stroke-width="0.22">OVA</text>
</g>
<g id="panelE">
<line x1="252.6" y1="220.6" x2="252.6" y2="220" stroke="#111" stroke-width="1.1"/>
<line x1="247" y1="220" x2="258" y2="220" stroke="#111" stroke-width="1.1"/>
<rect x="240.2" y="220.6" width="24.8" height="7" fill="#fff" stroke="#111" stroke-width="1.0"/>
<line x1="252.6" y1="227.6" x2="252.6" y2="230.2" stroke="#111" stroke-width="1.0"/>
<line x1="288.6" y1="220" x2="288.6" y2="219.6" stroke="#111" stroke-width="1.1"/>
<line x1="283" y1="219.6" x2="294" y2="219.6" stroke="#111" stroke-width="1.1"/>
<rect x="276.2" y="220" width="24.8" height="7.6" fill="#999" stroke="#111" stroke-width="1.0"/>
<line x1="288.6" y1="227.6" x2="288.6" y2="230.2" stroke="#111" stroke-width="1.0"/>
<line x1="325.3" y1="177.6" x2="325.3" y2="162.6" stroke="#111" stroke-width="1.1"/>
<line x1="319" y1="162.6" x2="331.4" y2="162.6" stroke="#111" stroke-width="1.1"/>
<rect x="312.6" y="177.6" width="25.4" height="50" fill="#1c1c1c" stroke="#111" stroke-width="1.0"/>
<line x1="325.3" y1="227.6" x2="325.3" y2="230.2" stroke="#111" stroke-width="1.0"/>
<line x1="234" y1="155.2" x2="234" y2="228.2" stroke="#111" stroke-width="1.3"/>
<line x1="233.4" y1="227.6" x2="343" y2="227.6" stroke="#111" stroke-width="1.3"/>
<line x1="231" y1="155.5" x2="234" y2="155.5" stroke="#111" stroke-width="1.1"/>
<text x="230" y="157.5" font-size="5.5" font-weight="bold" text-anchor="end" fill="#111" stroke="#111" stroke-width="0.22">20</text>
<line x1="231" y1="173.5" x2="234" y2="173.5" stroke="#111" stroke-width="1.1"/>
<text x="230" y="175.5" font-size="5.5" font-weight="bold" text-anchor="end" fill="#111" stroke="#111" stroke-width="0.22">15</text>
<line x1="231" y1="191.5" x2="234" y2="191.5" stroke="#111" stroke-width="1.1"/>
<text x="230" y="193.5" font-size="5.5" font-weight="bold" text-anchor="end" fill="#111" stroke="#111" stroke-width="0.22">10</text>
<line x1="231" y1="209.5" x2="234" y2="209.5" stroke="#111" stroke-width="1.1"/>
<text x="230" y="211.5" font-size="5.5" font-weight="bold" text-anchor="end" fill="#111" stroke="#111" stroke-width="0.22">5</text>
<line x1="231" y1="227.5" x2="234" y2="227.5" stroke="#111" stroke-width="1.1"/>
<text x="230" y="229.5" font-size="5.5" font-weight="bold" text-anchor="end" fill="#111" stroke="#111" stroke-width="0.22">0</text>
<line x1="245.6" y1="153" x2="329" y2="153" stroke="#111" stroke-width="1.3"/>
<line x1="288" y1="156.9" x2="329" y2="156.9" stroke="#111" stroke-width="1.3"/>
<line x1="257" y1="215.6" x2="289" y2="215.6" stroke="#111" stroke-width="1.3"/>
<text x="291.4" y="153.3" font-size="8.5" font-weight="bold" text-anchor="middle" fill="#111" stroke="none">*</text>
<text x="274.2" y="213.2" font-size="6.6" font-weight="normal" text-anchor="middle" fill="#333">ns</text>
<text x="282.4" y="142.4" font-size="6.2" font-weight="bold" text-anchor="middle" fill="#111" stroke="#111" stroke-width="0.22">CD25</text>
<text transform="translate(223 192.7) rotate(-90)" font-size="6.15" font-weight="bold" text-anchor="middle" fill="#111" stroke="#111" stroke-width="0.22">% of CD44<tspan font-size="4.5" dy="-2.1">high</tspan><tspan dy="2.1">OT-I cells</tspan></text>
<text x="252.6" y="237" font-size="6" font-weight="bold" text-anchor="middle" fill="#111" stroke="#111" stroke-width="0.22">rIgG/PBS</text>
<text x="290" y="237" font-size="6" font-weight="bold" text-anchor="middle" fill="#111" stroke="#111" stroke-width="0.22">anti-CD40/IL-2</text>
<text x="323.6" y="237" font-size="6" font-weight="bold" text-anchor="middle" fill="#111" stroke="#111" stroke-width="0.22">OVA</text>
</g>
<g id="panelF">
<line x1="393.1" y1="197" x2="393.1" y2="192.4" stroke="#111" stroke-width="1.1"/>
<line x1="386" y1="192.4" x2="399.4" y2="192.4" stroke="#111" stroke-width="1.1"/>
<rect x="381" y="197" width="24.2" height="31.6" fill="#fff" stroke="#111" stroke-width="1.0"/>
<line x1="393.1" y1="228.6" x2="393.1" y2="231.2" stroke="#111" stroke-width="1.0"/>
<line x1="428.6" y1="193.4" x2="428.6" y2="189" stroke="#111" stroke-width="1.1"/>
<line x1="422" y1="189" x2="435.2" y2="189" stroke="#111" stroke-width="1.1"/>
<rect x="416.2" y="193.4" width="24.8" height="35.2" fill="#777" stroke="#111" stroke-width="1.0"/>
<line x1="428.6" y1="228.6" x2="428.6" y2="231.2" stroke="#111" stroke-width="1.0"/>
<line x1="464.6" y1="166.2" x2="464.6" y2="157.2" stroke="#111" stroke-width="1.1"/>
<line x1="458" y1="157.2" x2="471.2" y2="157.2" stroke="#111" stroke-width="1.1"/>
<rect x="452.2" y="166.2" width="24.8" height="62.4" fill="#1c1c1c" stroke="#111" stroke-width="1.0"/>
<line x1="464.6" y1="228.6" x2="464.6" y2="231.2" stroke="#111" stroke-width="1.0"/>
<line x1="374.6" y1="156" x2="374.6" y2="229.2" stroke="#111" stroke-width="1.3"/>
<line x1="374" y1="228.6" x2="483" y2="228.6" stroke="#111" stroke-width="1.3"/>
<line x1="371.6" y1="164.6" x2="374.6" y2="164.6" stroke="#111" stroke-width="1.1"/>
<text x="370.6" y="166.6" font-size="5.5" font-weight="bold" text-anchor="end" fill="#111" stroke="#111" stroke-width="0.22">40</text>
<line x1="371.6" y1="180.6" x2="374.6" y2="180.6" stroke="#111" stroke-width="1.1"/>
<text x="370.6" y="182.6" font-size="5.5" font-weight="bold" text-anchor="end" fill="#111" stroke="#111" stroke-width="0.22">30</text>
<line x1="371.6" y1="196.6" x2="374.6" y2="196.6" stroke="#111" stroke-width="1.1"/>
<text x="370.6" y="198.6" font-size="5.5" font-weight="bold" text-anchor="end" fill="#111" stroke="#111" stroke-width="0.22">20</text>
<line x1="371.6" y1="212.6" x2="374.6" y2="212.6" stroke="#111" stroke-width="1.1"/>
<text x="370.6" y="214.6" font-size="5.5" font-weight="bold" text-anchor="end" fill="#111" stroke="#111" stroke-width="0.22">10</text>
<line x1="371.6" y1="228.6" x2="374.6" y2="228.6" stroke="#111" stroke-width="1.1"/>
<text x="370.6" y="230.6" font-size="5.5" font-weight="bold" text-anchor="end" fill="#111" stroke="#111" stroke-width="0.22">0</text>
<line x1="391" y1="152.6" x2="465.2" y2="152.6" stroke="#111" stroke-width="1.3"/>
<line x1="394" y1="183" x2="425.6" y2="183" stroke="#111" stroke-width="1.3"/>
<text x="428" y="153.5" font-size="8.5" font-weight="bold" text-anchor="middle" fill="#111" stroke="none">*</text>
<text x="409.4" y="181" font-size="6.6" font-weight="normal" text-anchor="middle" fill="#333">ns</text>
<text x="424.8" y="142.4" font-size="6.2" font-weight="bold" text-anchor="middle" fill="#111" stroke="#111" stroke-width="0.22">PD-1</text>
<text transform="translate(363.6 193.8) rotate(-90)" font-size="6.2" font-weight="bold" text-anchor="middle" fill="#111" stroke="#111" stroke-width="0.22">% of CD44<tspan font-size="4.5" dy="-2.1">high</tspan><tspan dy="2.1">OT-I cells</tspan></text>
<text x="392.6" y="238.2" font-size="6" font-weight="bold" text-anchor="middle" fill="#111" stroke="#111" stroke-width="0.22">rIgG/PBS</text>
<text x="430" y="238.2" font-size="6" font-weight="bold" text-anchor="middle" fill="#111" stroke="#111" stroke-width="0.22">anti-CD40/IL-2</text>
<text x="463.2" y="238.2" font-size="6" font-weight="bold" text-anchor="middle" fill="#111" stroke="#111" stroke-width="0.22">OVA</text>
</g>
<g id="panelG1">
<line x1="52.8" y1="334" x2="52.8" y2="332.6" stroke="#111" stroke-width="1.1"/>
<line x1="43" y1="332.6" x2="63" y2="332.6" stroke="#111" stroke-width="1.1"/>
<rect x="33.6" y="334" width="38.4" height="12.6" fill="#fff" stroke="#111" stroke-width="1.0"/>
<line x1="52.8" y1="346.6" x2="52.8" y2="349.2" stroke="#111" stroke-width="1.0"/>
<line x1="109.6" y1="282" x2="109.6" y2="271" stroke="#111" stroke-width="1.1"/>
<line x1="100" y1="271" x2="119.4" y2="271" stroke="#111" stroke-width="1.1"/>
<rect x="90.6" y="282" width="38" height="64.6" fill="#999" stroke="#111" stroke-width="1.0"/>
<line x1="109.6" y1="346.6" x2="109.6" y2="349.2" stroke="#111" stroke-width="1.0"/>
<line x1="24.4" y1="270.2" x2="24.4" y2="347.2" stroke="#111" stroke-width="1.3"/>
<line x1="23.8" y1="346.6" x2="138.6" y2="346.6" stroke="#111" stroke-width="1.3"/>
<line x1="21.4" y1="270.5" x2="24.4" y2="270.5" stroke="#111" stroke-width="1.1"/>
<text x="20.4" y="272.5" font-size="5.5" font-weight="bold" text-anchor="end" fill="#111" stroke="#111" stroke-width="0.22">45</text>
<line x1="21.4" y1="287.5" x2="24.4" y2="287.5" stroke="#111" stroke-width="1.1"/>
<text x="20.4" y="289.5" font-size="5.5" font-weight="bold" text-anchor="end" fill="#111" stroke="#111" stroke-width="0.22">35</text>
<line x1="21.4" y1="304.5" x2="24.4" y2="304.5" stroke="#111" stroke-width="1.1"/>
<text x="20.4" y="306.5" font-size="5.5" font-weight="bold" text-anchor="end" fill="#111" stroke="#111" stroke-width="0.22">25</text>
<line x1="21.4" y1="321.4" x2="24.4" y2="321.4" stroke="#111" stroke-width="1.1"/>
<text x="20.4" y="323.4" font-size="5.5" font-weight="bold" text-anchor="end" fill="#111" stroke="#111" stroke-width="0.22">15</text>
<line x1="21.4" y1="338.2" x2="24.4" y2="338.2" stroke="#111" stroke-width="1.1"/>
<text x="20.4" y="340.2" font-size="5.5" font-weight="bold" text-anchor="end" fill="#111" stroke="#111" stroke-width="0.22">5</text>
<line x1="21.4" y1="346.6" x2="24.4" y2="346.6" stroke="#111" stroke-width="1.1"/>
<text x="20.4" y="348.6" font-size="5.5" font-weight="bold" text-anchor="end" fill="#111" stroke="#111" stroke-width="0.22">0</text>
<line x1="47" y1="266" x2="113.6" y2="266" stroke="#111" stroke-width="1.3"/>
<text x="77.6" y="265.3" font-size="8.5" font-weight="bold" text-anchor="middle" fill="#111" stroke="none">**</text>
<text transform="translate(11.8 308) rotate(-90)" font-size="6" font-weight="bold" text-anchor="middle" fill="#111" stroke="#111" stroke-width="0.22">% of CD44<tspan font-size="4.5" dy="-2.1">high</tspan><tspan dy="2.1">OT-I cells</tspan></text>
<text x="51.4" y="358.3" font-size="6" font-weight="bold" text-anchor="middle" fill="#111" stroke="#111" stroke-width="0.22">rIgG/PBS</text>
<text x="109.2" y="358.3" font-size="6" font-weight="bold" text-anchor="middle" fill="#111" stroke="#111" stroke-width="0.22">anti-CD40/IL-2</text>
</g>
<g id="panelG2">
<line x1="192.3" y1="342.2" x2="192.3" y2="341.4" stroke="#111" stroke-width="1.1"/>
<line x1="182.6" y1="341.4" x2="202" y2="341.4" stroke="#111" stroke-width="1.1"/>
<rect x="173" y="342.2" width="38.6" height="4.8" fill="#fff" stroke="#111" stroke-width="1.0"/>
<line x1="192.3" y1="347" x2="192.3" y2="349.6" stroke="#111" stroke-width="1.0"/>
<line x1="249.6" y1="287.4" x2="249.6" y2="274" stroke="#111" stroke-width="1.1"/>
<line x1="240" y1="274" x2="259.4" y2="274" stroke="#111" stroke-width="1.1"/>
<rect x="230.6" y="287.4" width="38" height="59.6" fill="#999" stroke="#111" stroke-width="1.0"/>
<line x1="249.6" y1="347" x2="249.6" y2="349.6" stroke="#111" stroke-width="1.0"/>
<line x1="164" y1="271.2" x2="164" y2="347.6" stroke="#111" stroke-width="1.3"/>
<line x1="163.4" y1="347" x2="276.6" y2="347" stroke="#111" stroke-width="1.3"/>
<line x1="161" y1="271.5" x2="164" y2="271.5" stroke="#111" stroke-width="1.1"/>
<text x="160" y="273.5" font-size="5.5" font-weight="bold" text-anchor="end" fill="#111" stroke="#111" stroke-width="0.22">5</text>
<line x1="161" y1="286.6" x2="164" y2="286.6" stroke="#111" stroke-width="1.1"/>
<text x="160" y="288.6" font-size="5.5" font-weight="bold" text-anchor="end" fill="#111" stroke="#111" stroke-width="0.22">4</text>
<line x1="161" y1="301.8" x2="164" y2="301.8" stroke="#111" stroke-width="1.1"/>
<text x="160" y="303.8" font-size="5.5" font-weight="bold" text-anchor="end" fill="#111" stroke="#111" stroke-width="0.22">3</text>
<line x1="161" y1="316.9" x2="164" y2="316.9" stroke="#111" stroke-width="1.1"/>
<text x="160" y="318.9" font-size="5.5" font-weight="bold" text-anchor="end" fill="#111" stroke="#111" stroke-width="0.22">2</text>
<line x1="161" y1="332" x2="164" y2="332" stroke="#111" stroke-width="1.1"/>
<text x="160" y="334" font-size="5.5" font-weight="bold" text-anchor="end" fill="#111" stroke="#111" stroke-width="0.22">1</text>
<line x1="161" y1="347" x2="164" y2="347" stroke="#111" stroke-width="1.1"/>
<text x="160" y="349" font-size="5.5" font-weight="bold" text-anchor="end" fill="#111" stroke="#111" stroke-width="0.22">0</text>
<line x1="187" y1="266.6" x2="253.2" y2="266.6" stroke="#111" stroke-width="1.3"/>
<text x="217.4" y="265.5" font-size="8.5" font-weight="bold" text-anchor="middle" fill="#111" stroke="none">**</text>
<text transform="translate(152.4 308) rotate(-90)" font-size="6" font-weight="bold" text-anchor="middle" fill="#111" stroke="#111" stroke-width="0.22">OT-I cells (x10<tspan font-size="4.5" dy="-2.1">6</tspan><tspan dy="2.1">)</tspan></text>
<text x="191" y="358.2" font-size="6" font-weight="bold" text-anchor="middle" fill="#111" stroke="#111" stroke-width="0.22">rIgG/PBS</text>
<text x="248.7" y="358.2" font-size="6" font-weight="bold" text-anchor="middle" fill="#111" stroke="#111" stroke-width="0.22">anti-CD40/IL-2</text>
</g>
<g id="panelH">
<rect x="298.4" y="264.6" width="71.8" height="74.4" fill="#fff" stroke="#111" stroke-width="0.9"/>
<path d="M298.6 337.7 L299.4 337.3 L300.2 336.1 L301 336 L302.1 335 L303.3 333.1 L304.4 332.4 L305.3 330.5 L306.1 327.4 L307 325.5 L307.7 322.8 L308.4 321 L309.1 318.1 L309.7 315.7 L310.4 312.7 L311 310.5 L311.5 307.4 L312.1 305.8 L312.6 302.9 L313.2 298.7 L313.9 295.5 L314.5 291.3 L315.1 288.5 L315.6 286.8 L316.2 282.8 L316.6 281.1 L317.1 278.7 L317.5 276.5 L317.8 275 L318.2 273.6 L318.5 273.2 L318.9 270.8 L319.3 270.1 L319.7 268.2 L320 270.4 L320.3 271.5 L320.6 272 L320.9 275 L321.3 277 L321.6 279.6 L322.1 282.4 L322.5 285 L323 288.3 L323.5 292.4 L323.9 295.5 L324.4 297.5 L324.8 300.7 L325.2 303.2 L325.6 304.7 L326 307.7 L326.4 310 L326.8 312.1 L327.4 313.9 L327.9 316.2 L328.5 319.2 L329.1 321.3 L329.7 323.8 L330.3 325.7 L330.9 327.1 L331.4 328.3 L332 329.4 L332.6 330.6 L333.2 332.2 L333.8 332.5 L335 334.6 L336.2 335.7 L337.4 336.1 L338.9 336.3 L340.5 337.2 L342 338 L344.7 338.2 L347.3 337.5 L350 338.2 L350 338.4 L298.6 338.4 Z" fill="#b5b5b5" stroke="#555" stroke-width="0.7"/>
<path d="M322 338.2 L324 337.2 L326 336.3 L328 337.2 L329 335 L330 334 L331 333.4 L331.7 330.3 L332.5 328.7 L333.2 325.2 L333.7 322.5 L334.1 318.6 L334.6 316.5 L335 311.7 L335.4 308.5 L335.8 304.4 L336.1 299.4 L336.5 295.7 L336.8 292.5 L337.1 288.6 L337.5 284.5 L337.8 280.4 L338.1 277.8 L338.5 275.4 L338.8 273 L339.1 271.8 L339.5 270.8 L339.8 269.1 L340.2 269 L340.6 269 L341 269.2 L341.3 269.8 L341.7 271.3 L342 273.6 L342.3 275.9 L342.7 279.1 L343 280.6 L343.4 284.1 L343.8 287.3 L344.2 291.2 L344.7 295.2 L345.1 297.7 L345.6 301.8 L346.1 305.8 L346.5 309.4 L347 312.9 L347.5 315.1 L348.1 319.2 L348.6 321.9 L349.2 325.1 L349.8 326.5 L350.4 330 L351.1 331.8 L351.9 333 L352.6 334 L353.7 335.2 L354.9 336.1 L356 337.8 L358 337 L360 337.7 L362 338.2" fill="none" stroke="#999" stroke-width="0.9"/>
<path d="M298.6 337.7 L299.7 336.9 L300.9 336.6 L302 336.4 L303.2 333.8 L304.3 332.9 L305.5 331.2 L306.3 330.2 L307.2 328.6 L308 327 L308.7 324.6 L309.5 321.2 L310.2 320.4 L310.9 315.8 L311.5 313.3 L312.2 311.2 L312.8 308.3 L313.4 304.8 L314 302.3 L314.6 298.7 L315.2 295.3 L315.8 292.2 L316.3 289.4 L316.9 285.8 L317.4 283.9 L317.9 280.4 L318.3 278.6 L318.8 276.8 L319.2 275.1 L319.6 273.6 L320 270.9 L320.3 271.1 L320.6 268.8 L320.9 268.3 L321.2 269.6 L321.5 271.6 L321.8 273.4 L322.2 274.5 L322.6 277.5 L323 279.6 L323.5 283.6 L323.9 285.5 L324.4 290.2 L324.9 292.1 L325.3 294.9 L325.8 299.1 L326.3 301.7 L326.7 304.7 L327.2 307.7 L327.7 309.4 L328.1 311.9 L328.6 315 L329.1 316.8 L329.7 318.7 L330.2 321.7 L330.8 323.4 L331.4 326 L332 328.2 L332.8 329.5 L333.6 329.7 L334.4 332.1 L335.5 333 L336.5 333.3 L337.6 334.8 L339.1 334.9 L340.5 336.8 L342 336.5 L345.3 336.8 L348.7 338.5 L352 338.2" fill="none" stroke="#333" stroke-width="0.8"/>
<path d="M300 338.2 L302 337.2 L304 337.2 L306 336.5 L307.3 335.3 L308.7 333.4 L310 332.5 L311.1 331.5 L312.3 328.8 L313.4 326.7 L314.3 324 L315.1 320.3 L316 318.3 L316.7 315.1 L317.3 312.1 L318 307.7 L318.5 305 L319.1 302 L319.6 298.6 L320.1 294.9 L320.5 292.7 L321 289.1 L321.4 286.4 L321.8 283.8 L322.2 280.5 L322.5 278.7 L322.9 276.7 L323.2 275 L323.5 272.9 L323.9 270.9 L324.2 270.2 L324.5 269.6 L324.9 270.6 L325.2 271.8 L325.5 274.6 L325.7 275.6 L326 277.3 L326.4 279.9 L326.8 280.7 L327.2 283.5 L327.7 283.7 L328.1 286 L328.6 287.9 L329.2 288.2 L329.8 288.4 L330.4 289.1 L331 290.6 L331.6 290.2 L332.2 291.7 L332.7 290.7 L333.1 290 L333.6 290.8 L334 291.5 L334.4 292.1 L334.8 291.7 L335.1 294 L335.5 295.8 L335.8 298.2 L336.1 299.2 L336.5 302.1 L336.8 304.3 L337.2 307.5 L337.6 310.1 L338 312.7 L338.5 315.8 L338.9 318.7 L339.4 320.8 L339.9 323.5 L340.5 325.8 L341 328.1 L341.7 329.9 L342.3 331.5 L343 333.3 L344 334.8 L345 335.1 L346 337.2 L348 336.4 L350 337.3 L352 338.2" fill="none" stroke="#111" stroke-width="1.05" stroke-dasharray="1 0.75"/>
<path d="M298.4 339v1.6M303.8 339v0.8M307 339v0.8M309.2 339v0.8M310.9 339v0.8M312.4 339v0.8M313.6 339v0.8M314.6 339v0.8M315.5 339v0.8M316.3 339v1.6M321.8 339v0.8M324.9 339v0.8M327.2 339v0.8M328.9 339v0.8M330.3 339v0.8M331.5 339v0.8M332.6 339v0.8M333.5 339v0.8M334.3 339v1.6M339.7 339v0.8M342.9 339v0.8M345.1 339v0.8M346.8 339v0.8M348.3 339v0.8M349.5 339v0.8M350.5 339v0.8M351.4 339v0.8M352.2 339v1.6M357.7 339v0.8M360.8 339v0.8M363.1 339v0.8M364.8 339v0.8M366.2 339v0.8M367.4 339v0.8M368.5 339v0.8M369.4 339v0.8M298.4 339h-1.5M298.4 335.3h-0.8M298.4 331.6h-0.8M298.4 327.8h-0.8M298.4 324.1h-0.8M298.4 320.4h-1.5M298.4 316.7h-0.8M298.4 313h-0.8M298.4 309.2h-0.8M298.4 305.5h-0.8M298.4 301.8h-1.5M298.4 298.1h-0.8M298.4 294.4h-0.8M298.4 290.6h-0.8M298.4 286.9h-0.8M298.4 283.2h-1.5M298.4 279.5h-0.8M298.4 275.8h-0.8M298.4 272h-0.8M298.4 268.3h-0.8M298.4 264.6h-1.5" stroke="#111" stroke-width="0.5" fill="none"/>
<rect x="298.4" y="264.6" width="71.8" height="74.4" fill="none" stroke="#111" stroke-width="0.9"/>
<rect x="372.8" y="264.6" width="69.2" height="74.4" fill="#fff" stroke="#111" stroke-width="0.9"/>
<path d="M373.2 337.9 L374.8 337.9 L376.4 337.4 L378 336.5 L379.3 335.5 L380.7 335.3 L382 333.8 L383 333 L384 331.7 L385 328.9 L385.9 327.8 L386.7 325.1 L387.6 323.6 L388.3 321.3 L388.9 318 L389.6 315.6 L390.1 311.4 L390.7 308 L391.2 305.1 L391.7 301.1 L392.1 297.7 L392.6 293.6 L393 290.2 L393.4 287.5 L393.8 283.4 L394.1 280.9 L394.5 278 L394.8 276.3 L395.1 273.7 L395.5 272 L395.8 271.2 L396.1 270 L396.5 269.2 L396.8 268.3 L397.1 269.1 L397.5 270 L397.8 269.8 L398.1 269.1 L398.5 268.8 L398.8 269.3 L399.1 270.3 L399.3 272.4 L399.6 272.6 L399.9 276.7 L400.3 279.5 L400.6 282.7 L401 287.3 L401.4 290.7 L401.8 294.6 L402.2 298.6 L402.6 302.2 L403 305.3 L403.5 309.9 L403.9 312.2 L404.4 315.3 L404.9 317.2 L405.5 319.6 L406 322 L406.7 323.5 L407.3 325.9 L408 327.7 L408.8 329.4 L409.6 329.8 L410.4 332 L411.4 333 L412.4 333 L413.4 334.3 L414.9 335.1 L416.5 336.9 L418 337.4 L420.7 336.7 L423.3 337.4 L426 338.2 L426 338.4 L373.2 338.4 Z" fill="#b5b5b5" stroke="#555" stroke-width="0.7"/>
<path d="M396.9 338.2 L398.9 337.1 L400.9 337.3 L402.9 336.4 L403.9 335.7 L404.9 334 L405.9 331.7 L406.5 329 L407.1 326.7 L407.7 323.8 L408.1 320.8 L408.5 316.2 L408.9 313.6 L409.2 308.8 L409.6 304.2 L409.9 300.7 L410.2 295.8 L410.4 292.4 L410.7 288.7 L411 285.3 L411.2 282.1 L411.5 277.9 L411.8 276.1 L412 273.9 L412.3 270.7 L412.6 270.2 L412.8 270.2 L413.1 269.3 L413.4 269.1 L413.8 270.4 L414.1 269.9 L414.4 272.5 L414.8 275 L415.1 276.7 L415.4 279.6 L415.8 283.8 L416.1 287.2 L416.4 290.9 L416.8 293.8 L417.1 297.3 L417.4 300.9 L417.8 305.4 L418.1 308.3 L418.5 311.7 L418.9 315.3 L419.3 318.3 L419.8 321.3 L420.2 322.9 L420.7 326 L421.3 327.7 L421.9 329.2 L422.5 332.2 L423.3 333.4 L424.1 334.7 L424.9 334.8 L426.2 335.1 L427.6 336.8 L428.9 337.8 L430.9 337.3 L432.9 337.5 L434.9 338.2" fill="none" stroke="#999" stroke-width="0.9"/>
<path d="M373.2 337.9 L375.5 338 L377.7 337.1 L380 336.8 L381.7 335.9 L383.3 334.6 L385 334.1 L386.3 332.1 L387.7 330.9 L389 328.1 L390 327.3 L391 326.4 L392 324 L392.8 322.3 L393.6 320.1 L394.4 318.8 L395.1 314.9 L395.7 312.9 L396.4 310.4 L396.9 309 L397.5 306.5 L398 302.4 L398.4 299.8 L398.8 296.9 L399.2 294.7 L399.5 292 L399.9 288.4 L400.2 286.6 L400.5 283.4 L400.9 281 L401.2 278.3 L401.6 276.4 L402 273.7 L402.4 271.7 L402.8 272.2 L403.2 269.9 L403.6 268.9 L403.9 270.8 L404.3 270.4 L404.6 270.8 L404.9 274.3 L405.3 275.7 L405.6 278.3 L405.9 281 L406.3 284 L406.6 287.5 L406.9 292.1 L407.3 295.4 L407.6 299.3 L407.9 302.7 L408.3 305.8 L408.6 309.3 L409 311.3 L409.4 314.1 L409.8 317.4 L410.3 320.1 L410.7 321 L411.2 324 L411.8 325.6 L412.4 326.9 L413 327.3 L413.8 328.7 L414.6 331.2 L415.4 331.5 L416.4 332.1 L417.4 334.2 L418.4 335.4 L419.9 336.2 L421.5 336.7 L423 337.2 L425.3 337.1 L427.7 338.6 L430 338.2" fill="none" stroke="#333" stroke-width="0.8"/>
<path d="M377 338.2 L379.7 337.2 L382.3 336.9 L385 335.8 L386.7 335.4 L388.3 334.4 L390 333 L391.2 331.1 L392.4 328.9 L393.6 328.2 L394.5 324.9 L395.3 323.7 L396.2 321.2 L396.9 318.6 L397.5 315.3 L398.2 312.4 L398.7 308.3 L399.3 306 L399.8 302.1 L400.2 298.7 L400.6 295.1 L401 292.5 L401.3 289.2 L401.7 286.1 L402 283.2 L402.3 281 L402.7 278.8 L403 275 L403.3 274.6 L403.7 271.8 L404 270.4 L404.3 270.3 L404.7 269.9 L405 268.5 L405.3 269.2 L405.7 270.3 L406 271 L406.3 272.8 L406.7 274.7 L407 276.2 L407.3 280.7 L407.7 282.8 L408 286.7 L408.3 289.7 L408.7 292.4 L409 296 L409.3 299.8 L409.7 303 L410 306.4 L410.3 310.4 L410.7 313 L411 315.4 L411.4 318.4 L411.8 321 L412.2 323.5 L412.7 324.7 L413.3 326.2 L413.8 327.8 L414.5 330.1 L415.3 331.4 L416 333.6 L417 333.4 L418 334.1 L419 335.8 L421 336.9 L423 337 L425 338.2" fill="none" stroke="#111" stroke-width="1.05" stroke-dasharray="1 0.75"/>
<path d="M372.8 339v1.6M378 339v0.8M381.1 339v0.8M383.2 339v0.8M384.9 339v0.8M386.3 339v0.8M387.4 339v0.8M388.4 339v0.8M389.3 339v0.8M390.1 339v1.6M395.3 339v0.8M398.4 339v0.8M400.5 339v0.8M402.2 339v0.8M403.6 339v0.8M404.7 339v0.8M405.7 339v0.8M406.6 339v0.8M407.4 339v1.6M412.6 339v0.8M415.7 339v0.8M417.8 339v0.8M419.5 339v0.8M420.9 339v0.8M422 339v0.8M423 339v0.8M423.9 339v0.8M424.7 339v1.6M429.9 339v0.8M433 339v0.8M435.1 339v0.8M436.8 339v0.8M438.2 339v0.8M439.3 339v0.8M440.3 339v0.8M441.2 339v0.8M372.8 339h-1.5M372.8 335.3h-0.8M372.8 331.6h-0.8M372.8 327.8h-0.8M372.8 324.1h-0.8M372.8 320.4h-1.5M372.8 316.7h-0.8M372.8 313h-0.8M372.8 309.2h-0.8M372.8 305.5h-0.8M372.8 301.8h-1.5M372.8 298.1h-0.8M372.8 294.4h-0.8M372.8 290.6h-0.8M372.8 286.9h-0.8M372.8 283.2h-1.5M372.8 279.5h-0.8M372.8 275.8h-0.8M372.8 272h-0.8M372.8 268.3h-0.8M372.8 264.6h-1.5" stroke="#111" stroke-width="0.5" fill="none"/>
<rect x="372.8" y="264.6" width="69.2" height="74.4" fill="none" stroke="#111" stroke-width="0.9"/>
<rect x="445.5" y="264.6" width="73.3" height="74.4" fill="#fff" stroke="#111" stroke-width="0.9"/>
<path d="M463.6 338.2 L464.2 337.1 L464.8 336.2 L465.4 336.6 L465.9 334.5 L466.3 332.3 L466.8 330.8 L467.2 327.9 L467.6 324.9 L468 323.5 L468.3 319.8 L468.7 315.4 L469 311.8 L469.3 308.7 L469.7 303.6 L470 300.3 L470.3 297 L470.7 292.4 L471 289.5 L471.3 285.5 L471.7 283.4 L472 278.9 L472.3 276.6 L472.7 275.1 L473 272.3 L473.3 271.2 L473.7 270.6 L474 268.3 L474.3 268.6 L474.7 269.5 L475 269.2 L475.3 271 L475.7 272.1 L476 274.2 L476.3 277.2 L476.7 279.3 L477 283.5 L477.3 287.7 L477.7 290.7 L478 295.5 L478.3 298.7 L478.7 303.6 L479 307.7 L479.3 310.7 L479.7 313.5 L480 316.8 L480.4 319.2 L480.8 322.9 L481.2 325.7 L481.7 327.2 L482.1 329.3 L482.6 330.2 L483.3 331.1 L483.9 332.9 L484.6 335 L485.7 335.1 L486.9 336.3 L488 336.7 L490 336.9 L492 337.6 L494 338.2 L494 338.4 L463.6 338.4 Z" fill="#b5b5b5" stroke="#555" stroke-width="0.7"/>
<path d="M483 338.2 L484.3 337.2 L485.7 336.8 L487 337.1 L487.7 335.9 L488.3 334.3 L489 333.3 L489.5 330.6 L490.1 328.9 L490.6 327.1 L491.1 322.7 L491.5 320.9 L492 316.5 L492.5 312.6 L492.9 308.9 L493.4 305.8 L493.9 302.9 L494.3 298.6 L494.8 296.2 L495.3 292.9 L495.7 288.9 L496.2 286.9 L496.7 283.5 L497.1 281.8 L497.6 278.3 L498.1 277.5 L498.5 274.8 L499 273.3 L499.4 271 L499.8 270.5 L500.2 269 L500.5 269.1 L500.9 270 L501.2 271.4 L501.5 271.7 L501.9 274.9 L502.2 275.7 L502.6 279.2 L503 281.8 L503.4 284.1 L503.9 287.2 L504.3 290.8 L504.8 292.9 L505.3 296.7 L505.7 299.3 L506.2 302.2 L506.7 306.5 L507.3 308.3 L507.8 312.7 L508.3 315.2 L508.9 317.1 L509.4 321.1 L510 322.1 L510.6 325.5 L511.2 328.2 L511.9 329.7 L512.5 331.7 L513.2 333.1 L514 334.3 L514.8 335.7 L515.6 336.9 L516.5 336.7 L517.5 337 L518.4 338.2" fill="none" stroke="#999" stroke-width="0.9"/>
<path d="M463.6 338.2 L464.4 337.1 L465.2 335.7 L466 336.2 L466.7 334 L467.5 333.7 L468.2 330.8 L468.9 329.9 L469.5 328.7 L470.2 326.8 L470.8 326.4 L471.4 324.6 L472 323.2 L472.7 324.2 L473.3 323.1 L474 322.3 L474.5 322.4 L475.1 320.5 L475.6 320.1 L476 319 L476.4 318.1 L476.8 316.2 L477.1 313.6 L477.5 311.6 L477.8 309.8 L478.1 305.8 L478.3 302.4 L478.6 300.1 L478.9 296.2 L479.1 293.2 L479.4 290.8 L479.7 287.9 L480.1 284.9 L480.4 282.1 L480.8 282.2 L481.2 280.3 L481.6 278.2 L482 276.9 L482.4 275.6 L482.8 275.3 L483.2 274.7 L483.6 274 L484 272.9 L484.4 272.1 L484.8 271.8 L485.2 269.7 L485.6 270.1 L486 270.1 L486.4 269.5 L486.7 270.9 L487.1 271.7 L487.4 273.3 L487.7 274.6 L487.9 276.7 L488.2 279.1 L488.5 281.4 L488.7 284.8 L489 288.2 L489.3 293.3 L489.5 297 L489.8 300.5 L490.1 303.2 L490.3 307.5 L490.6 310.4 L490.9 314.2 L491.3 317.4 L491.6 320.8 L492 322.2 L492.4 325.9 L492.8 327.7 L493.3 330.1 L493.9 330.1 L494.4 332.9 L495.3 334.2 L496.1 335.7 L497 335.5 L498.7 336.4 L500.3 338.2 L502 338.2" fill="none" stroke="#333" stroke-width="0.8"/>
<path d="M470 338.2 L471.3 337.8 L472.7 336.1 L474 336.2 L474.8 334.3 L475.6 333.8 L476.4 331.4 L476.9 330 L477.5 327.2 L478 324.5 L478.4 321.3 L478.8 318.8 L479.2 315.7 L479.5 312.1 L479.9 306.9 L480.2 304.6 L480.5 300.7 L480.9 296.8 L481.2 292.8 L481.5 291 L481.9 287.9 L482.2 284.5 L482.6 283.1 L483 280.3 L483.4 279.7 L483.8 278.2 L484.2 276.7 L484.6 275.8 L484.9 273.3 L485.3 272.6 L485.6 272.2 L485.9 271.5 L486.1 270.5 L486.4 269 L486.7 270.1 L486.9 270.6 L487.2 271.1 L487.5 272.5 L487.7 274.2 L488 276.2 L488.3 279.1 L488.5 283.2 L488.8 285 L489.1 288.7 L489.3 293.6 L489.6 295.9 L489.9 299.6 L490.1 304 L490.4 308.1 L490.7 311.8 L491.1 315.6 L491.4 319.2 L491.8 320.4 L492.2 324.3 L492.6 326.1 L493.1 328.5 L493.7 330.7 L494.2 331.4 L495 333.3 L495.8 335.1 L496.6 335.5 L498.1 336.7 L499.5 337.8 L501 338.2" fill="none" stroke="#111" stroke-width="1.05" stroke-dasharray="1 0.75"/>
<path d="M445.5 339v1.6M451 339v0.8M454.2 339v0.8M456.5 339v0.8M458.3 339v0.8M459.8 339v0.8M461 339v0.8M462 339v0.8M463 339v0.8M463.8 339v1.6M469.3 339v0.8M472.6 339v0.8M474.9 339v0.8M476.6 339v0.8M478.1 339v0.8M479.3 339v0.8M480.4 339v0.8M481.3 339v0.8M482.1 339v1.6M487.7 339v0.8M490.9 339v0.8M493.2 339v0.8M495 339v0.8M496.4 339v0.8M497.6 339v0.8M498.7 339v0.8M499.6 339v0.8M500.5 339v1.6M506 339v0.8M509.2 339v0.8M511.5 339v0.8M513.3 339v0.8M514.7 339v0.8M516 339v0.8M517 339v0.8M518 339v0.8M445.5 339h-1.5M445.5 335.3h-0.8M445.5 331.6h-0.8M445.5 327.8h-0.8M445.5 324.1h-0.8M445.5 320.4h-1.5M445.5 316.7h-0.8M445.5 313h-0.8M445.5 309.2h-0.8M445.5 305.5h-0.8M445.5 301.8h-1.5M445.5 298.1h-0.8M445.5 294.4h-0.8M445.5 290.6h-0.8M445.5 286.9h-0.8M445.5 283.2h-1.5M445.5 279.5h-0.8M445.5 275.8h-0.8M445.5 272h-0.8M445.5 268.3h-0.8M445.5 264.6h-1.5" stroke="#111" stroke-width="0.5" fill="none"/>
<rect x="445.5" y="264.6" width="73.3" height="74.4" fill="none" stroke="#111" stroke-width="0.9"/>
<text transform="translate(292.6 302) rotate(-90)" font-size="6.2" font-weight="bold" text-anchor="middle" fill="#111" stroke="#111" stroke-width="0.22">% of Max</text>
<text x="334.3" y="350.4" font-size="6.2" font-weight="bold" text-anchor="middle" fill="#111" stroke="#111" stroke-width="0.22">PE-Cy7-A: NKG2D</text>
<text x="405.9" y="350.4" font-size="6.0" font-weight="bold" text-anchor="middle" fill="#111" stroke="#111" stroke-width="0.22">APC-Cy7-A: PD1</text>
<text x="483" y="350.4" font-size="6.1" font-weight="bold" text-anchor="middle" fill="#111" stroke="#111" stroke-width="0.22">PE-Cy5-A: CD25</text>
</g>
</svg>
</body>
</html>
